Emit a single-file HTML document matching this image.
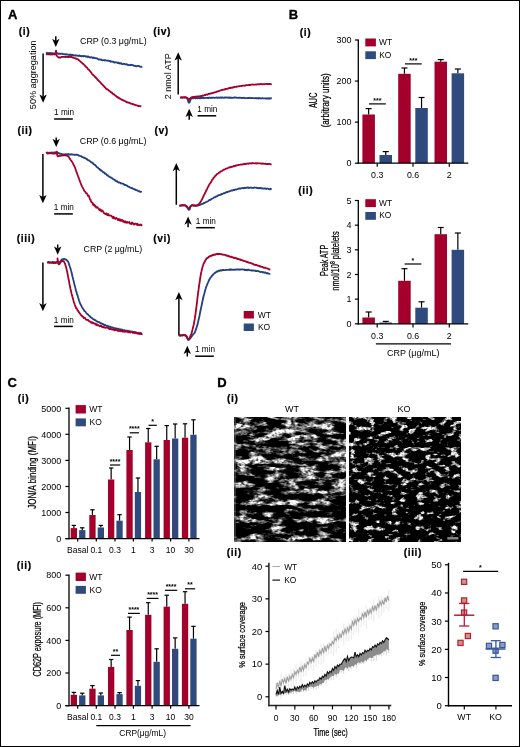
<!DOCTYPE html>
<html><head><meta charset="utf-8"><style>
html,body{margin:0;padding:0;background:#fff;}
svg{display:block;font-family:"Liberation Sans", sans-serif;will-change:transform;}
</style></head><body>
<svg width="520" height="747" viewBox="0 0 520 747">
<rect x="0" y="0" width="520" height="747" fill="#fff"/>
<text x="8.0" y="19.0" font-size="13" text-anchor="start" font-weight="bold" fill="#000" stroke="#000" stroke-width="0.35">A</text>
<text x="18.75" y="34.85" font-size="10.3" text-anchor="start" font-weight="bold" fill="#000" letter-spacing="0.6" stroke="#000" stroke-width="0.2">(i)</text>
<text x="17.55" y="133.65" font-size="10.3" text-anchor="start" font-weight="bold" fill="#000" letter-spacing="0.6" stroke="#000" stroke-width="0.2">(ii)</text>
<text x="16.75" y="242.45" font-size="10.3" text-anchor="start" font-weight="bold" fill="#000" letter-spacing="0.6" stroke="#000" stroke-width="0.2">(iii)</text>
<text x="153.25" y="34.75" font-size="10.3" text-anchor="start" font-weight="bold" fill="#000" letter-spacing="0.6" stroke="#000" stroke-width="0.2">(iv)</text>
<text x="154.45" y="133.65" font-size="10.3" text-anchor="start" font-weight="bold" fill="#000" letter-spacing="0.6" stroke="#000" stroke-width="0.2">(v)</text>
<text x="153.25" y="242.05" font-size="10.3" text-anchor="start" font-weight="bold" fill="#000" letter-spacing="0.6" stroke="#000" stroke-width="0.2">(vi)</text>
<line x1="55.8" y1="36.2" x2="55.8" y2="41.0" stroke="#000" stroke-width="1.5" />
<path d="M52.10,38.80 L55.80,41.00 L59.50,38.80 L55.80,47.10 Z" fill="#000"/>
<text x="80" y="44.4" font-size="8.9" text-anchor="start" font-weight="normal" fill="#000" >CRP (0.3 μg/mL)</text>
<line x1="43.1" y1="53.4" x2="43.1" y2="96.60000000000001" stroke="#000" stroke-width="1.5" />
<path d="M39.40,94.40 L43.10,96.60 L46.80,94.40 L43.10,102.70 Z" fill="#000"/>
<text transform="translate(35.9,74.8) rotate(-90) scale(1.0,1)" font-size="9.1" text-anchor="middle" font-weight="normal">50% aggregation</text>
<polyline points="46.10,53.06 46.39,52.94 46.75,53.36 47.18,52.92 47.68,53.32 48.21,53.22 48.79,53.00 49.39,53.38 50.00,53.03 50.39,53.36 50.80,53.07 51.22,53.09 51.65,53.36 52.10,53.68 52.56,53.12 53.03,53.20 53.51,53.53 54.00,53.79 54.49,53.51 54.99,53.38 55.49,53.86 56.00,53.14 56.44,53.81 56.88,53.38 57.32,53.30 57.77,53.31 58.22,53.49 58.68,53.94 59.14,53.47 59.61,53.83 60.09,53.92 60.58,53.75 61.08,53.94 61.59,53.60 62.11,53.64 62.65,53.81 63.20,54.24 63.63,54.08 64.06,54.04 64.51,54.30 64.96,54.24 65.43,54.16 65.90,54.61 66.38,54.58 66.86,54.27 67.35,54.58 67.84,54.60 68.34,54.93 68.84,54.86 69.34,54.56 69.84,55.17 70.34,54.54 70.84,54.83 71.33,55.15 71.83,54.72 72.31,55.04 72.80,54.73 73.28,55.28 73.77,55.41 74.25,55.30 74.74,55.59 75.22,55.19 75.71,55.54 76.19,55.51 76.68,55.54 77.16,55.49 77.65,55.85 78.14,55.98 78.62,55.65 79.11,55.85 79.59,55.42 80.08,55.98 80.56,55.99 81.05,56.32 81.53,56.24 82.02,55.87 82.50,56.01 82.98,56.30 83.47,55.84 83.96,56.25 84.44,56.08 84.93,56.10 85.42,56.12 85.91,56.75 86.40,56.30 86.89,56.46 87.38,56.64 87.86,57.10 88.34,56.53 88.83,56.90 89.30,57.06 89.78,57.40 90.25,57.42 90.72,57.54 91.19,57.15 91.64,57.35 92.10,57.39 92.60,57.91 93.08,58.07 93.56,57.53 94.02,57.66 94.48,57.82 94.94,57.94 95.39,58.26 95.84,58.46 96.29,58.32 96.74,58.24 97.19,58.69 97.65,58.78 98.12,59.06 98.59,59.49 99.07,59.40 99.57,59.38 100.08,59.58 100.60,59.74 101.04,59.34 101.49,60.11 101.94,60.10 102.40,60.27 102.87,60.30 103.34,60.07 103.82,60.16 104.30,60.02 104.79,60.53 105.28,60.17 105.77,60.26 106.27,60.46 106.77,60.52 107.26,60.75 107.76,60.61 108.26,60.66 108.76,60.87 109.25,60.92 109.74,61.22 110.23,61.04 110.72,61.81 111.20,61.69 111.68,61.41 112.16,61.58 112.64,61.75 113.11,61.86 113.59,61.76 114.07,62.43 114.54,62.64 115.02,62.31 115.50,62.42 115.97,62.19 116.45,62.30 116.93,62.59 117.40,62.62 117.88,63.16 118.36,62.71 118.83,62.69 119.31,63.53 119.79,63.28 120.26,63.06 120.74,63.46 121.22,63.14 121.70,63.62 122.18,64.07 122.66,64.06 123.15,64.01 123.63,63.74 124.12,63.91 124.61,63.83 125.10,64.39 125.59,64.28 126.08,64.55 126.57,64.27 127.06,64.27 127.54,64.81 128.03,65.03 128.51,65.00 129.00,65.04 129.48,65.12 129.96,65.13 130.43,64.79 130.90,65.10 131.37,65.04 131.84,64.85 132.30,64.92 132.81,65.20 133.34,65.27 133.89,65.69 134.44,65.99 135.00,65.66 135.56,66.14 136.12,66.26 136.67,66.31 137.22,65.92 137.76,65.88 138.29,65.96 138.80,66.01 139.29,66.09 139.76,66.49 140.20,66.78 140.61,66.79 140.99,66.55 141.33,66.74 141.64,66.90 141.90,66.37" fill="none" stroke="#21407f" stroke-width="1.8" stroke-linejoin="round"/>
<polyline points="46.10,54.20 46.39,54.36 46.77,54.30 47.22,54.30 47.72,54.16 48.27,54.00 48.84,54.39 49.42,54.14 50.00,54.44 50.56,54.56 51.09,54.23 51.58,54.24 52.00,54.57 52.64,54.45 53.24,54.15 53.78,54.16 54.27,54.18 54.71,54.59 55.08,54.41 55.40,53.79 55.87,52.03 56.00,50.59 56.22,52.37 56.60,54.91 56.90,55.83 57.24,56.24 57.71,56.67 58.40,57.58 58.75,57.46 59.12,57.42 59.53,57.65 59.96,57.31 60.43,57.51 60.93,57.41 61.45,56.97 62.01,56.93 62.59,56.90 63.20,56.84 63.60,57.04 64.03,56.83 64.48,56.91 64.94,56.72 65.42,57.17 65.91,56.82 66.42,56.87 66.93,56.94 67.44,57.13 67.95,56.84 68.46,57.14 68.97,56.91 69.47,56.96 69.96,56.99 70.44,56.74 70.90,57.06 71.42,57.00 71.94,57.00 72.45,57.60 72.97,57.35 73.48,57.68 73.98,57.98 74.48,58.05 74.97,58.08 75.46,58.38 75.93,58.60 76.39,58.93 76.84,58.73 77.28,59.22 77.70,59.25 78.26,59.59 78.79,60.23 79.29,60.43 79.76,60.84 80.22,61.36 80.68,61.85 81.12,61.99 81.57,62.51 82.03,62.87 82.50,63.31 82.98,63.85 83.46,64.14 83.94,64.64 84.42,65.06 84.90,65.80 85.38,66.12 85.86,66.71 86.34,67.24 86.82,67.34 87.30,68.04 87.79,68.81 88.29,69.34 88.79,69.52 89.30,70.14 89.80,70.96 90.30,71.36 90.78,72.06 91.24,72.53 91.68,73.42 92.10,73.97 92.62,74.61 93.07,74.62 93.47,75.35 93.87,75.68 94.28,75.76 94.75,76.66 95.30,77.28 95.70,77.26 96.14,78.17 96.59,78.34 97.07,78.92 97.57,79.77 98.07,80.24 98.58,80.40 99.10,81.13 99.61,81.74 100.11,82.18 100.60,82.62 101.08,83.21 101.56,83.97 102.05,84.07 102.53,84.92 103.01,85.37 103.49,85.63 103.97,86.32 104.45,86.99 104.94,87.40 105.42,87.60 105.90,88.59 106.38,88.89 106.85,89.39 107.32,89.24 107.79,89.69 108.25,89.90 108.72,90.68 109.20,90.71 109.68,90.97 110.18,91.50 110.68,92.16 111.20,92.49 111.65,92.50 112.10,92.79 112.56,93.62 113.03,93.78 113.50,94.24 113.98,94.25 114.46,94.61 114.95,95.37 115.45,95.60 115.95,95.76 116.46,96.65 116.98,96.83 117.50,97.28 117.96,97.15 118.43,97.92 118.91,97.74 119.39,98.52 119.89,98.57 120.38,98.80 120.88,99.22 121.38,99.73 121.89,99.62 122.39,99.81 122.90,100.32 123.40,100.41 123.90,100.59 124.40,100.86 124.90,101.03 125.39,101.34 125.87,101.62 126.35,101.82 126.83,102.29 127.31,102.19 127.78,102.49 128.26,102.47 128.74,102.74 129.22,102.71 129.71,103.01 130.21,103.04 130.72,103.63 131.23,103.69 131.76,103.64 132.30,103.98 132.75,104.40 133.22,104.05 133.73,104.63 134.25,104.56 134.78,104.75 135.33,105.12 135.88,105.01 136.44,105.24 136.99,105.50 137.53,105.83 138.06,105.60 138.58,106.04 139.07,106.10 139.53,106.19 139.97,106.17 140.37,106.24 140.72,106.17 141.04,106.30 141.30,106.34" fill="none" stroke="#a8002a" stroke-width="1.8" stroke-linejoin="round"/>
<text x="54.1" y="115.0" font-size="8.2" text-anchor="start" font-weight="normal" fill="#000" >1 min</text>
<line x1="54.1" y1="119.0" x2="72.8" y2="119.0" stroke="#000" stroke-width="1.5" />
<line x1="56.2" y1="137.5" x2="56.2" y2="140.89999999999998" stroke="#000" stroke-width="1.5" />
<path d="M52.50,138.70 L56.20,140.90 L59.90,138.70 L56.20,147.00 Z" fill="#000"/>
<text x="79.8" y="144.0" font-size="8.9" text-anchor="start" font-weight="normal" fill="#000" >CRP (0.6 μg/mL)</text>
<line x1="42.9" y1="154" x2="42.9" y2="197.09999999999997" stroke="#000" stroke-width="1.5" />
<path d="M39.20,194.90 L42.90,197.10 L46.60,194.90 L42.90,203.20 Z" fill="#000"/>
<polyline points="46.30,152.97 46.58,152.62 46.93,152.55 47.35,152.49 47.81,153.02 48.32,153.03 48.86,152.88 49.41,152.60 49.96,152.56 50.51,152.59 51.04,152.70 51.54,152.47 52.00,152.66 52.51,152.51 53.01,152.96 53.49,152.92 53.96,152.57 54.42,152.31 54.88,152.77 55.33,152.29 55.78,152.32 56.24,152.09 56.70,152.42 57.13,152.58 57.52,152.74 57.87,152.71 58.22,153.12 58.58,152.98 58.97,153.37 59.42,153.45 59.94,153.86 60.56,153.76 61.30,153.87 61.65,154.10 62.03,154.08 62.45,154.35 62.88,154.33 63.34,154.50 63.82,154.45 64.32,154.50 64.83,154.61 65.36,154.27 65.89,154.23 66.43,154.69 66.97,154.10 67.52,154.50 68.06,154.44 68.60,154.01 69.13,154.56 69.66,154.60 70.16,154.42 70.66,154.50 71.13,154.56 71.59,154.09 72.02,154.38 72.42,154.38 72.80,154.63 73.48,154.66 74.10,154.73 74.65,154.62 75.16,154.89 75.62,154.81 76.06,154.89 76.47,154.65 76.88,154.60 77.28,154.77 77.70,155.04 78.13,154.99 78.60,155.64 79.08,155.59 79.57,155.81 80.05,155.99 80.53,156.22 81.02,156.28 81.50,156.15 81.98,156.93 82.47,157.12 82.95,157.18 83.43,157.44 83.92,157.77 84.40,157.60 84.88,158.31 85.37,158.23 85.85,158.36 86.34,158.75 86.82,159.35 87.31,159.26 87.79,159.91 88.27,160.37 88.76,160.33 89.24,160.57 89.72,160.95 90.20,161.43 90.69,161.84 91.18,162.11 91.68,162.52 92.19,162.53 92.69,163.00 93.19,163.49 93.68,164.25 94.16,164.36 94.63,164.95 95.07,164.95 95.50,165.35 95.90,165.84 96.45,166.60 96.95,167.06 97.42,167.46 97.85,167.59 98.26,168.13 98.67,168.46 99.08,168.82 99.50,168.93 99.96,169.85 100.39,169.70 100.79,170.55 101.21,170.83 101.67,170.52 102.19,171.22 102.80,171.92 103.17,172.31 103.55,172.24 103.96,172.43 104.38,172.71 104.82,173.57 105.27,173.41 105.74,174.03 106.22,174.08 106.72,174.72 107.22,175.40 107.74,175.20 108.27,176.05 108.80,176.21 109.22,176.76 109.65,176.92 110.09,176.90 110.54,177.67 111.00,177.70 111.47,177.69 111.95,177.99 112.43,178.65 112.91,178.94 113.40,179.15 113.89,179.34 114.38,179.79 114.87,180.07 115.36,180.73 115.84,180.42 116.32,181.22 116.80,181.54 117.27,181.28 117.74,182.08 118.21,182.15 118.67,182.50 119.14,182.27 119.60,182.53 120.07,182.74 120.53,183.35 121.00,183.25 121.47,183.28 121.95,183.51 122.43,183.60 122.91,183.63 123.40,183.87 123.89,184.59 124.39,184.42 124.90,185.10 125.36,184.84 125.84,185.07 126.32,185.47 126.81,185.47 127.31,185.84 127.81,186.49 128.32,186.68 128.82,186.87 129.33,186.99 129.84,187.44 130.35,187.70 130.85,187.67 131.36,188.03 131.85,187.80 132.34,188.51 132.82,188.53 133.29,188.96 133.75,189.10 134.20,189.05 134.73,189.12 135.27,189.97 135.82,189.65 136.38,190.12 136.93,190.26 137.47,190.45 138.01,190.98 138.53,191.36 139.03,191.06 139.52,191.53 139.97,191.46 140.39,191.81 140.78,191.86 141.13,191.84 141.44,191.96 141.70,192.10" fill="none" stroke="#21407f" stroke-width="1.8" stroke-linejoin="round"/>
<polyline points="46.30,153.46 46.58,153.31 46.94,153.21 47.36,153.51 47.83,153.57 48.35,153.37 48.89,153.27 49.44,153.31 50.00,153.29 50.55,153.41 51.07,153.32 51.56,153.39 52.00,153.40 52.55,153.53 53.11,153.67 53.65,153.62 54.17,153.49 54.67,153.49 55.13,153.51 55.54,153.41 55.90,153.33 56.20,153.12 56.67,152.04 56.70,151.69 56.96,153.25 57.30,155.60 57.61,156.16 57.98,156.36 58.50,156.09 58.80,156.07 59.11,155.97 59.45,155.90 59.86,155.78 60.37,155.86 61.00,155.74 61.35,155.72 61.76,155.34 62.20,155.29 62.67,155.51 63.17,155.53 63.68,155.32 64.20,155.33 64.72,155.08 65.22,155.24 65.71,155.49 66.18,155.50 66.61,155.61 67.00,155.79 67.56,155.80 68.05,156.12 68.50,156.59 68.91,157.25 69.30,157.87 69.68,158.56 70.08,159.08 70.50,159.66 70.94,160.32 71.38,160.83 71.81,161.51 72.25,161.99 72.69,163.01 73.12,163.56 73.56,164.67 74.00,165.46 74.44,166.31 74.88,167.31 75.32,168.50 75.76,169.84 76.19,171.08 76.63,172.07 77.07,173.25 77.50,174.61 77.99,175.97 78.48,177.25 78.96,178.55 79.44,180.05 79.92,181.14 80.41,182.52 80.90,183.78 81.33,184.98 81.77,185.82 82.20,186.85 82.64,187.59 83.08,188.36 83.52,189.18 83.96,190.25 84.40,190.88 84.84,191.37 85.27,191.80 85.70,192.47 86.13,193.22 86.57,193.25 87.03,193.48 87.50,194.77 88.00,195.92 88.41,195.41 88.82,195.84 89.23,197.17 89.66,198.18 90.09,199.51 90.55,199.58 91.02,201.49 91.52,202.25 92.04,202.66 92.60,202.90 93.02,204.70 93.44,204.05 93.88,205.38 94.33,204.82 94.80,205.24 95.27,206.58 95.76,206.20 96.25,207.73 96.76,207.35 97.29,207.23 97.82,207.70 98.37,208.43 98.93,209.26 99.50,210.16 99.93,209.11 100.38,209.85 100.84,209.86 101.30,211.47 101.78,210.38 102.26,210.54 102.75,210.88 103.25,211.76 103.75,212.94 104.26,213.23 104.77,213.28 105.28,214.04 105.79,214.23 106.30,213.51 106.81,213.56 107.31,215.12 107.81,215.08 108.31,214.14 108.80,215.48 109.28,215.25 109.77,215.49 110.25,215.66 110.72,215.63 111.20,215.58 111.67,216.27 112.15,216.62 112.62,217.86 113.09,216.66 113.57,218.30 114.05,217.22 114.53,217.68 115.01,218.67 115.50,218.87 115.99,218.40 116.48,217.95 116.98,218.87 117.49,218.89 118.00,220.01 118.47,218.95 118.93,219.42 119.40,220.50 119.86,219.19 120.33,220.01 120.80,220.86 121.27,220.95 121.74,219.88 122.22,220.03 122.70,220.23 123.19,221.85 123.68,220.88 124.17,221.86 124.67,222.27 125.18,221.47 125.70,221.51 126.22,222.82 126.75,222.38 127.29,221.92 127.84,222.83 128.40,222.29 128.85,222.32 129.33,221.97 129.82,223.35 130.34,223.73 130.87,223.36 131.42,223.99 131.97,222.54 132.54,223.00 133.11,223.51 133.69,224.44 134.27,224.53 134.84,223.67 135.42,223.53 135.98,223.93 136.54,224.14 137.09,224.97 137.63,223.79 138.14,224.93 138.65,224.90 139.13,225.12 139.58,225.11 140.01,224.90 140.42,224.49 140.79,224.54 141.13,224.67 141.43,225.43 141.70,224.28" fill="none" stroke="#a8002a" stroke-width="1.8" stroke-linejoin="round"/>
<text x="53.8" y="209.9" font-size="8.2" text-anchor="start" font-weight="normal" fill="#000" >1 min</text>
<line x1="54.1" y1="213.9" x2="72.8" y2="213.9" stroke="#000" stroke-width="1.5" />
<line x1="57.7" y1="244.5" x2="57.7" y2="248.59999999999997" stroke="#000" stroke-width="1.5" />
<path d="M54.00,246.40 L57.70,248.60 L61.40,246.40 L57.70,254.70 Z" fill="#000"/>
<text x="83.6" y="251.7" font-size="8.8" text-anchor="start" font-weight="normal" fill="#000" >CRP (2 μg/mL)</text>
<line x1="42.9" y1="262.6" x2="42.9" y2="305.2" stroke="#000" stroke-width="1.5" />
<path d="M39.20,303.00 L42.90,305.20 L46.60,303.00 L42.90,311.30 Z" fill="#000"/>
<polyline points="47.40,262.02 47.67,262.35 48.01,262.05 48.40,261.94 48.83,261.92 49.31,262.23 49.82,262.09 50.36,262.48 50.92,262.42 51.49,262.49 52.06,262.05 52.64,261.94 53.20,261.95 53.75,262.19 54.27,262.32 54.77,262.16 55.23,262.04 55.64,262.15 56.00,262.27 56.77,262.34 57.38,262.45 57.87,262.58 58.29,262.53 58.65,262.23 59.01,262.63 59.40,262.18 59.94,261.98 60.41,261.32 60.85,260.94 61.30,260.05 61.80,259.65 62.25,259.40 62.73,259.13 63.22,259.41 63.71,259.12 64.21,258.94 64.70,259.04 65.19,259.53 65.70,259.45 66.21,259.57 66.71,260.27 67.17,260.60 67.60,261.29 68.13,261.59 68.58,262.77 69.01,264.14 69.50,265.60 69.96,267.11 70.45,268.31 70.95,270.30 71.44,272.04 71.90,273.81 72.41,276.27 72.88,277.96 73.34,280.05 73.80,281.62 74.27,283.87 74.74,285.58 75.22,287.39 75.70,289.57 76.09,291.08 76.47,291.93 76.87,293.55 77.27,294.90 77.70,296.03 78.12,297.53 78.54,298.83 78.98,300.31 79.49,301.79 80.10,303.46 80.48,304.31 80.87,304.86 81.29,305.57 81.72,306.59 82.19,307.63 82.68,308.17 83.21,309.07 83.78,309.82 84.40,310.98 84.80,311.31 85.21,311.51 85.65,312.03 86.11,312.70 86.59,313.29 87.07,313.84 87.57,314.00 88.07,314.53 88.58,315.32 89.09,315.62 89.60,316.00 90.11,316.46 90.62,317.27 91.11,317.30 91.60,317.84 92.07,318.08 92.54,318.47 92.99,319.07 93.44,319.46 93.89,319.38 94.34,319.57 94.79,320.17 95.25,320.13 95.71,320.28 96.19,321.08 96.67,321.06 97.17,321.56 97.69,321.58 98.24,322.14 98.80,322.18 99.22,322.21 99.64,322.33 100.08,322.86 100.52,323.13 100.97,323.50 101.43,323.23 101.90,323.76 102.37,323.83 102.85,324.12 103.33,324.12 103.82,324.41 104.31,324.77 104.81,325.22 105.31,324.93 105.82,325.36 106.33,325.75 106.84,326.04 107.35,325.77 107.87,325.92 108.38,326.59 108.90,326.79 109.35,326.64 109.81,326.53 110.28,327.20 110.75,327.02 111.22,327.46 111.70,327.43 112.18,327.69 112.66,327.42 113.14,327.92 113.63,327.71 114.12,327.94 114.61,328.33 115.10,328.44 115.60,328.18 116.09,328.31 116.59,328.54 117.08,328.73 117.57,328.76 118.06,328.72 118.56,328.90 119.04,329.30 119.53,329.52 120.02,329.11 120.50,329.54 120.98,329.76 121.47,329.44 121.95,330.03 122.44,329.70 122.93,330.09 123.41,330.16 123.90,330.30 124.39,330.21 124.88,330.37 125.37,330.57 125.86,330.57 126.34,330.80 126.83,330.77 127.31,330.85 127.79,330.70 128.27,331.15 128.75,331.16 129.23,331.10 129.70,331.50 130.17,331.60 130.63,331.50 131.09,331.43 131.55,331.69 132.00,331.56 132.52,331.68 133.06,331.97 133.60,331.88 134.16,332.21 134.72,332.37 135.28,332.20 135.84,332.67 136.40,332.46 136.96,332.96 137.50,333.10 138.03,333.06 138.55,332.89 139.05,333.26 139.53,333.29 139.99,333.73 140.42,333.33 140.83,333.85 141.20,334.01 141.54,333.92 141.84,334.03 142.10,333.72" fill="none" stroke="#21407f" stroke-width="1.8" stroke-linejoin="round"/>
<polyline points="47.40,262.69 47.68,262.51 48.04,262.72 48.45,262.73 48.91,262.47 49.42,262.77 49.97,262.87 50.55,262.57 51.14,262.74 51.75,262.94 52.36,262.75 52.97,263.07 53.57,262.85 54.15,263.08 54.71,262.81 55.23,262.94 55.70,263.08 56.13,262.75 56.50,262.70 56.80,262.70 57.69,260.25 57.50,258.31 57.83,260.40 58.20,263.06 58.49,264.10 58.81,264.31 59.20,264.36 59.55,263.72 59.94,263.35 60.36,262.40 60.80,262.01 61.18,261.70 61.58,261.23 61.99,261.14 62.40,260.83 62.80,260.83 63.28,261.17 63.76,261.28 64.23,262.29 64.70,263.05 65.17,264.15 65.65,265.76 66.12,267.22 66.60,269.40 67.07,271.39 67.55,273.73 68.02,276.42 68.50,278.78 68.97,281.12 69.44,283.82 69.91,285.98 70.40,288.63 70.81,290.21 71.24,292.14 71.67,294.00 72.10,295.49 72.50,297.07 72.95,298.67 73.35,300.13 73.78,301.66 74.30,303.26 74.70,304.52 75.13,305.53 75.59,306.64 76.09,308.19 76.62,308.33 77.20,309.47 77.61,310.66 78.03,310.58 78.47,311.23 78.93,312.32 79.41,312.68 79.90,313.62 80.42,314.09 80.95,315.12 81.50,315.71 81.92,315.66 82.35,316.56 82.78,316.77 83.21,316.73 83.66,318.06 84.13,317.58 84.60,317.82 85.10,318.10 85.61,319.10 86.15,319.73 86.71,319.98 87.30,319.88 87.71,319.96 88.13,319.91 88.57,320.92 89.01,321.07 89.47,321.07 89.93,321.68 90.41,321.69 90.89,322.54 91.38,322.54 91.88,322.21 92.38,323.25 92.89,322.46 93.40,323.29 93.92,323.38 94.44,323.41 94.96,323.43 95.48,324.51 96.00,323.81 96.45,324.65 96.90,325.30 97.36,324.52 97.82,324.76 98.28,325.43 98.74,325.48 99.21,325.81 99.68,326.18 100.16,325.58 100.63,325.91 101.12,326.06 101.60,325.92 102.09,327.08 102.58,327.11 103.07,327.18 103.57,326.48 104.07,327.64 104.57,327.66 105.08,327.47 105.59,327.95 106.10,327.74 106.55,327.59 107.00,327.57 107.46,327.84 107.92,327.72 108.38,328.19 108.84,328.80 109.31,328.85 109.77,329.14 110.24,329.08 110.72,328.66 111.19,329.11 111.67,329.07 112.15,329.59 112.63,329.37 113.12,329.16 113.60,329.71 114.09,330.20 114.59,329.40 115.08,330.29 115.58,329.35 116.08,329.73 116.58,329.80 117.09,330.50 117.60,330.83 118.06,330.68 118.52,330.25 118.99,331.00 119.46,330.41 119.94,330.38 120.42,331.26 120.90,331.00 121.39,331.15 121.88,331.19 122.37,331.64 122.86,331.10 123.36,331.61 123.85,331.51 124.35,331.77 124.84,331.33 125.34,331.75 125.83,331.63 126.32,331.38 126.81,331.33 127.30,331.89 127.78,331.30 128.26,332.37 128.74,331.51 129.21,331.44 129.68,331.60 130.14,332.65 130.60,332.01 131.12,331.84 131.65,331.78 132.19,331.88 132.74,332.73 133.29,332.74 133.85,332.90 134.41,333.02 134.97,332.29 135.53,333.00 136.08,332.81 136.63,333.43 137.16,333.50 137.69,333.66 138.20,332.74 138.70,333.77 139.17,333.89 139.63,333.99 140.07,333.05 140.48,333.22 140.87,333.16 141.22,333.12 141.55,334.14 141.84,334.14 142.10,333.96" fill="none" stroke="#a8002a" stroke-width="1.8" stroke-linejoin="round"/>
<text x="53.8" y="322.5" font-size="8.2" text-anchor="start" font-weight="normal" fill="#000" >1 min</text>
<line x1="54.1" y1="326.4" x2="72.8" y2="326.4" stroke="#000" stroke-width="1.5" />
<line x1="178.2" y1="94.4" x2="178.2" y2="58.39999999999999" stroke="#000" stroke-width="1.5" />
<path d="M174.50,60.60 L178.20,58.40 L181.90,60.60 L178.20,52.30 Z" fill="#000"/>
<text transform="translate(170.9,76.3) rotate(-90) scale(1.0,1)" font-size="9.0" text-anchor="middle" font-weight="normal">2 nmol ATP</text>
<polyline points="180.20,97.90 180.49,97.77 180.87,97.54 181.32,97.39 181.83,97.35 182.37,97.70 182.95,97.33 183.54,97.37 184.13,97.42 184.71,97.19 185.26,97.38 185.77,97.47 186.22,97.86 186.60,97.82 187.24,98.46 187.73,99.84 188.10,100.69 188.42,101.96 188.73,102.63 189.10,102.62 189.50,102.51 189.82,101.59 190.18,100.59 190.70,99.18 191.50,98.62 191.81,98.39 192.14,98.09 192.48,98.39 192.83,97.87 193.20,98.27 193.59,97.86 194.00,97.75 194.43,97.87 194.89,98.22 195.38,98.36 195.89,97.79 196.44,98.10 197.03,98.11 197.64,98.30 198.30,97.93 199.00,98.10 199.37,98.00 199.74,98.27 200.13,97.92 200.53,98.31 200.94,97.90 201.36,97.85 201.79,98.12 202.23,97.99 202.67,97.74 203.13,98.04 203.59,97.70 204.06,98.11 204.54,98.04 205.03,98.08 205.52,97.97 206.02,97.79 206.52,97.80 207.03,97.78 207.55,98.07 208.06,97.57 208.59,98.04 209.11,97.51 209.64,97.61 210.18,97.63 210.71,98.00 211.25,97.75 211.79,97.67 212.33,97.96 212.87,97.56 213.41,97.69 213.96,97.73 214.50,97.85 214.95,97.85 215.40,97.78 215.86,97.59 216.32,97.58 216.78,97.47 217.25,97.88 217.72,97.77 218.20,97.81 218.68,97.47 219.16,97.63 219.65,97.82 220.13,97.70 220.63,97.43 221.12,97.63 221.62,97.88 222.11,97.49 222.61,97.47 223.11,97.53 223.62,97.77 224.12,97.86 224.63,97.44 225.13,97.44 225.64,97.50 226.15,97.55 226.65,97.67 227.16,97.45 227.67,97.55 228.18,97.47 228.69,97.95 229.19,97.80 229.70,97.43 230.20,97.95 230.71,97.43 231.21,97.61 231.71,97.97 232.21,97.86 232.71,97.83 233.21,97.66 233.70,97.52 234.19,97.79 234.69,97.48 235.18,97.54 235.67,97.66 236.17,97.45 236.66,97.68 237.15,97.92 237.65,97.87 238.14,97.77 238.64,97.85 239.13,97.76 239.62,97.58 240.12,97.87 240.61,97.76 241.11,97.97 241.60,98.08 242.10,97.80 242.59,97.90 243.08,98.02 243.58,97.83 244.07,97.73 244.57,98.04 245.06,98.14 245.55,98.09 246.04,98.06 246.54,98.16 247.03,98.07 247.52,98.06 248.01,97.96 248.50,97.89 248.99,98.09 249.48,97.78 249.97,97.99 250.46,98.22 250.95,98.18 251.44,98.15 251.93,97.93 252.41,98.04 252.90,98.07 253.40,98.18 253.92,98.07 254.45,98.24 254.98,98.40 255.53,97.97 256.08,98.26 256.63,98.35 257.20,98.12 257.76,98.20 258.33,98.50 258.91,97.95 259.48,98.27 260.05,98.05 260.63,98.43 261.20,98.54 261.77,98.30 262.33,98.06 262.89,98.36 263.45,98.35 264.00,98.47 264.54,98.36 265.07,98.44 265.59,98.57 266.11,98.40 266.61,98.34 267.09,98.67 267.57,98.24 268.03,98.53 268.47,98.37 268.90,98.60 269.31,98.22 269.70,98.75 270.07,98.38 270.42,98.21 270.75,98.35 271.06,98.43 271.34,98.20 271.60,98.45" fill="none" stroke="#21407f" stroke-width="1.8" stroke-linejoin="round"/>
<polyline points="180.20,97.46 180.49,97.60 180.87,97.42 181.32,97.36 181.83,97.33 182.37,97.57 182.95,97.66 183.54,97.44 184.13,97.29 184.71,97.58 185.26,97.40 185.77,97.34 186.22,97.35 186.60,97.74 187.24,98.01 187.73,98.32 188.11,98.67 188.43,99.13 188.74,99.26 189.10,99.73 189.49,99.24 189.78,98.96 190.11,98.51 190.60,97.97 191.40,97.38 191.73,97.21 192.08,97.26 192.47,96.98 192.88,97.27 193.31,96.98 193.77,97.18 194.25,96.84 194.74,96.85 195.24,96.75 195.76,96.78 196.29,96.61 196.83,96.47 197.37,96.76 197.91,96.47 198.46,96.37 199.00,96.30 199.44,96.30 199.89,96.19 200.34,96.20 200.81,96.11 201.28,95.86 201.76,96.04 202.24,95.89 202.73,95.38 203.23,95.65 203.72,95.57 204.22,95.39 204.73,94.95 205.23,95.17 205.73,94.94 206.23,94.51 206.73,94.37 207.23,94.72 207.72,94.44 208.21,94.11 208.70,93.90 209.18,93.79 209.66,93.70 210.15,93.83 210.63,93.48 211.11,93.24 211.59,93.47 212.07,93.27 212.55,92.81 213.03,93.02 213.51,92.73 213.99,92.67 214.46,92.46 214.94,92.42 215.42,92.22 215.90,92.09 216.38,91.63 216.86,91.73 217.34,91.50 217.82,91.46 218.30,91.17 218.78,91.25 219.26,90.95 219.74,90.66 220.22,90.50 220.70,90.31 221.18,90.35 221.66,89.99 222.14,90.06 222.62,89.75 223.10,89.79 223.58,89.66 224.06,89.54 224.54,89.57 225.02,89.01 225.50,89.29 225.98,88.98 226.46,88.90 226.94,88.82 227.42,88.79 227.90,88.44 228.38,88.34 228.85,88.50 229.32,87.94 229.79,88.12 230.25,88.01 230.72,87.60 231.18,87.78 231.64,87.72 232.11,87.74 232.57,87.34 233.04,87.57 233.52,87.24 233.99,87.13 234.47,87.24 234.96,86.72 235.45,86.97 235.95,86.83 236.46,86.60 236.97,86.77 237.50,86.43 237.95,86.41 238.40,86.37 238.85,86.42 239.32,86.07 239.79,86.11 240.26,86.03 240.74,86.03 241.22,86.10 241.71,85.77 242.20,85.97 242.69,85.69 243.18,85.68 243.68,85.50 244.17,85.55 244.67,85.73 245.17,85.51 245.66,85.52 246.16,85.23 246.66,85.17 247.15,85.10 247.64,85.19 248.13,85.17 248.62,85.19 249.10,84.77 249.58,85.06 250.06,85.10 250.55,84.89 251.03,84.59 251.51,84.68 251.99,84.49 252.48,84.54 252.96,84.87 253.44,84.68 253.92,84.67 254.41,84.70 254.89,84.72 255.37,84.54 255.85,84.51 256.33,84.49 256.81,84.49 257.29,84.42 257.76,84.43 258.24,84.17 258.71,84.37 259.19,84.25 259.66,84.37 260.13,84.02 260.60,84.04 261.10,83.95 261.61,84.30 262.14,84.35 262.68,84.20 263.23,84.05 263.78,84.26 264.34,84.23 264.90,84.11 265.45,83.95 266.00,83.96 266.55,84.01 267.09,83.96 267.61,84.01 268.12,84.11 268.61,84.25 269.08,83.80 269.53,84.06 269.95,83.79 270.35,83.82 270.71,84.17 271.04,84.05 271.34,84.21 271.60,83.97" fill="none" stroke="#a8002a" stroke-width="1.8" stroke-linejoin="round"/>
<line x1="189.2" y1="119.8" x2="189.2" y2="114.89999999999999" stroke="#000" stroke-width="1.5" />
<path d="M185.50,117.10 L189.20,114.90 L192.90,117.10 L189.20,108.80 Z" fill="#000"/>
<text x="197.3" y="111.5" font-size="8.2" text-anchor="start" font-weight="normal" fill="#000" >1 min</text>
<line x1="197.5" y1="115.8" x2="216.2" y2="115.8" stroke="#000" stroke-width="1.5" />
<line x1="176.3" y1="204.8" x2="176.3" y2="169.00000000000003" stroke="#000" stroke-width="1.5" />
<path d="M172.60,171.20 L176.30,169.00 L180.00,171.20 L176.30,162.90 Z" fill="#000"/>
<polyline points="179.50,205.31 179.78,205.53 180.13,205.64 180.54,205.82 181.01,205.81 181.52,205.47 182.06,205.41 182.61,205.20 183.17,205.52 183.71,205.28 184.24,205.28 184.74,205.27 185.20,205.36 185.60,205.91 186.17,205.95 186.69,207.00 187.16,207.13 187.59,208.30 187.99,208.51 188.37,209.00 188.74,209.80 189.10,209.65 189.58,209.56 189.94,208.32 190.29,207.10 190.74,206.47 191.40,205.73 191.76,205.68 192.14,205.53 192.56,205.12 193.01,205.47 193.48,205.57 193.97,205.50 194.48,205.85 195.00,205.51 195.54,205.98 196.09,205.85 196.64,205.40 197.20,205.31 197.62,205.59 198.05,205.58 198.48,205.02 198.92,205.02 199.37,205.13 199.83,204.63 200.29,204.88 200.76,204.48 201.23,204.03 201.72,204.02 202.21,203.93 202.71,203.63 203.22,203.55 203.74,202.99 204.26,203.13 204.80,202.62 205.24,202.57 205.69,202.33 206.14,201.96 206.61,201.69 207.08,201.67 207.56,201.49 208.04,201.12 208.53,200.70 209.03,200.25 209.53,199.82 210.02,200.07 210.53,199.62 211.03,199.40 211.53,198.81 212.03,198.69 212.53,198.63 213.03,198.27 213.52,197.86 214.01,197.43 214.50,197.26 214.98,197.29 215.46,196.75 215.95,196.71 216.43,196.43 216.91,196.38 217.39,196.10 217.87,195.57 218.35,195.18 218.83,195.12 219.31,195.01 219.79,194.90 220.26,194.83 220.74,194.67 221.22,193.97 221.70,194.24 222.18,194.04 222.66,193.88 223.14,193.51 223.62,193.15 224.10,193.31 224.58,193.10 225.06,192.85 225.54,192.81 226.02,192.30 226.50,191.97 226.98,192.08 227.46,192.06 227.94,191.54 228.42,191.71 228.90,191.67 229.38,191.09 229.86,191.16 230.34,191.06 230.82,190.79 231.30,190.49 231.78,190.38 232.26,190.54 232.74,190.43 233.22,190.10 233.70,189.75 234.18,190.06 234.66,189.92 235.14,189.48 235.62,189.57 236.10,189.64 236.58,189.53 237.06,189.20 237.54,189.07 238.02,189.03 238.50,188.69 238.98,188.60 239.46,188.50 239.94,188.73 240.42,188.44 240.90,188.48 241.38,188.31 241.86,188.30 242.34,188.01 242.82,187.89 243.30,188.40 243.78,187.97 244.26,187.76 244.74,188.03 245.23,188.08 245.71,187.66 246.20,187.90 246.68,187.72 247.16,187.80 247.65,187.47 248.13,187.46 248.61,188.02 249.10,187.94 249.58,187.70 250.06,187.74 250.54,187.55 251.01,187.86 251.49,187.65 251.96,187.96 252.43,187.86 252.90,187.89 253.39,187.99 253.88,187.57 254.36,187.46 254.84,187.58 255.32,187.59 255.79,187.56 256.27,187.57 256.74,187.90 257.21,188.12 257.69,187.91 258.16,188.24 258.63,188.26 259.11,187.79 259.58,188.15 260.06,188.07 260.54,187.95 261.02,188.49 261.51,188.11 262.00,188.34 262.48,188.42 262.98,188.66 263.50,188.53 264.04,188.41 264.59,188.49 265.15,188.37 265.71,188.91 266.26,188.98 266.82,188.57 267.37,188.51 267.91,188.69 268.43,188.80 268.93,189.18 269.41,189.23 269.86,189.23 270.29,188.80 270.68,189.28 271.03,189.27 271.34,189.26 271.60,189.49" fill="none" stroke="#21407f" stroke-width="1.8" stroke-linejoin="round"/>
<polyline points="179.50,205.18 179.78,205.22 180.13,205.52 180.56,205.59 181.03,205.44 181.55,205.23 182.09,205.36 182.65,205.44 183.21,205.11 183.76,205.24 184.29,205.24 184.78,205.23 185.22,205.48 185.60,205.43 186.27,205.88 186.80,206.44 187.25,207.40 187.65,207.71 188.05,208.54 188.50,208.45 188.95,208.16 189.36,208.09 189.77,207.05 190.22,206.68 190.75,206.01 191.40,205.59 191.79,205.12 192.22,205.22 192.69,205.05 193.19,205.50 193.71,205.51 194.24,205.47 194.78,205.44 195.31,205.43 195.82,205.70 196.32,205.50 196.78,205.50 197.20,205.12 197.77,204.86 198.29,204.42 198.77,204.32 199.22,203.75 199.66,203.00 200.10,202.76 200.54,201.80 201.00,201.16 201.47,200.24 201.95,199.41 202.42,198.75 202.89,197.49 203.37,196.38 203.84,195.50 204.32,194.40 204.80,193.70 205.28,192.34 205.75,191.81 206.22,190.39 206.69,189.85 207.17,188.77 207.66,187.58 208.17,186.75 208.70,185.69 209.14,184.90 209.60,184.06 210.07,183.33 210.56,182.83 211.04,182.02 211.54,181.18 212.03,180.00 212.53,179.35 213.02,178.95 213.50,177.88 213.97,177.61 214.41,176.85 214.85,176.68 215.28,175.71 215.72,175.65 216.17,174.98 216.65,174.45 217.15,173.95 217.70,173.92 218.30,173.31 218.70,172.85 219.12,172.68 219.56,172.62 220.02,171.97 220.49,171.84 220.98,171.33 221.47,171.05 221.97,171.05 222.48,170.73 222.99,170.18 223.50,169.85 224.01,169.58 224.51,169.58 225.02,169.27 225.51,168.92 226.00,168.65 226.48,168.64 226.95,168.48 227.42,168.34 227.88,168.04 228.34,167.68 228.80,167.44 229.27,167.62 229.73,167.30 230.20,167.30 230.67,166.83 231.15,167.06 231.64,166.68 232.14,166.79 232.65,166.67 233.17,166.34 233.70,165.96 234.14,166.29 234.58,165.96 235.04,166.04 235.50,165.63 235.97,165.48 236.44,165.69 236.92,165.35 237.40,165.14 237.89,165.13 238.38,165.14 238.87,164.74 239.37,164.90 239.86,164.77 240.36,164.71 240.86,164.42 241.35,164.63 241.84,164.59 242.33,164.54 242.82,164.18 243.30,164.31 243.78,164.07 244.26,164.19 244.74,163.77 245.23,164.12 245.71,164.10 246.20,163.81 246.68,163.76 247.16,163.72 247.65,163.67 248.13,163.37 248.61,163.80 249.10,163.38 249.58,163.32 250.06,163.25 250.54,163.29 251.01,163.54 251.49,163.12 251.96,163.13 252.43,163.42 252.90,163.15 253.39,163.05 253.88,163.33 254.36,163.32 254.84,163.29 255.32,163.39 255.79,163.10 256.27,163.49 256.74,163.43 257.21,163.12 257.69,163.18 258.16,163.39 258.63,163.42 259.11,163.33 259.58,163.28 260.06,163.45 260.54,163.34 261.02,163.60 261.51,163.76 262.00,163.42 262.48,163.66 262.98,163.77 263.50,163.51 264.04,163.87 264.59,163.96 265.15,163.72 265.71,163.77 266.26,164.02 266.82,163.90 267.37,163.87 267.91,164.17 268.43,164.13 268.93,163.94 269.41,163.92 269.86,164.00 270.29,164.08 270.68,164.38 271.03,164.32 271.34,164.39 271.60,164.36" fill="none" stroke="#a8002a" stroke-width="1.8" stroke-linejoin="round"/>
<line x1="188.1" y1="227.3" x2="188.1" y2="222.60000000000002" stroke="#000" stroke-width="1.5" />
<path d="M184.40,224.80 L188.10,222.60 L191.80,224.80 L188.10,216.50 Z" fill="#000"/>
<text x="195.8" y="223.8" font-size="8.2" text-anchor="start" font-weight="normal" fill="#000" >1 min</text>
<line x1="196.2" y1="227.7" x2="214.8" y2="227.7" stroke="#000" stroke-width="1.5" />
<line x1="178.9" y1="335.2" x2="178.9" y2="298.1" stroke="#000" stroke-width="1.5" />
<path d="M175.20,300.30 L178.90,298.10 L182.60,300.30 L178.90,292.00 Z" fill="#000"/>
<polyline points="178.90,335.84 179.18,335.28 179.54,335.58 179.96,335.84 180.44,335.78 180.95,335.25 181.50,335.33 182.07,335.43 182.64,335.21 183.21,335.31 183.77,334.99 184.29,335.28 184.78,335.38 185.22,335.14 185.60,335.35 186.29,336.49 186.81,337.20 187.23,338.28 187.61,338.97 188.01,339.77 188.50,340.07 188.94,339.93 189.41,338.97 189.90,338.86 190.40,337.94 190.90,337.52 191.39,336.51 191.86,336.01 192.30,335.70 192.84,334.87 193.33,334.10 193.81,333.79 194.27,333.16 194.73,332.79 195.20,331.35 195.68,330.14 196.17,328.97 196.65,327.03 197.13,325.66 197.62,324.11 198.10,321.91 198.58,319.73 199.07,317.70 199.55,315.47 200.03,312.87 200.52,310.52 201.00,308.24 201.48,306.07 201.97,303.80 202.45,301.36 202.93,299.04 203.42,296.74 203.90,295.03 204.37,293.39 204.83,291.52 205.29,289.89 205.77,288.42 206.26,286.64 206.80,285.55 207.22,284.31 207.64,283.33 208.07,282.37 208.52,281.29 208.99,280.23 209.49,279.27 210.02,278.36 210.60,277.71 211.01,277.06 211.43,276.64 211.86,275.68 212.31,275.38 212.78,275.20 213.26,274.25 213.75,273.98 214.25,273.47 214.77,272.88 215.30,272.96 215.84,272.10 216.40,272.09 216.83,271.43 217.26,271.16 217.70,271.54 218.15,271.07 218.60,270.66 219.06,270.76 219.53,270.68 220.01,270.78 220.50,270.24 220.99,270.24 221.49,270.67 222.00,270.45 222.51,269.97 223.03,270.02 223.56,269.97 224.10,270.12 224.54,270.03 224.98,270.14 225.44,270.08 225.90,269.83 226.37,269.95 226.84,269.93 227.32,269.91 227.80,269.70 228.29,269.90 228.78,269.83 229.27,269.96 229.77,269.40 230.26,269.91 230.76,269.30 231.26,269.82 231.75,269.69 232.24,269.62 232.73,269.94 233.22,269.66 233.70,269.54 234.18,269.79 234.64,269.84 235.10,269.64 235.56,269.47 236.01,269.51 236.46,269.50 236.90,269.67 237.35,269.36 237.80,269.42 238.26,269.53 238.71,269.40 239.18,269.36 239.65,269.68 240.13,269.73 240.63,269.49 241.13,269.46 241.65,269.30 242.18,269.40 242.73,269.32 243.30,269.65 243.72,269.68 244.14,269.37 244.58,269.98 245.02,269.59 245.48,269.99 245.94,270.02 246.40,270.14 246.88,269.65 247.35,269.85 247.84,270.23 248.33,269.64 248.82,269.71 249.31,270.12 249.81,270.12 250.31,270.47 250.82,270.42 251.32,270.31 251.83,270.69 252.33,270.41 252.84,270.47 253.34,270.65 253.84,270.50 254.34,270.55 254.84,270.78 255.34,270.68 255.83,271.17 256.32,271.05 256.80,271.02 257.31,270.80 257.83,271.08 258.37,271.20 258.92,271.41 259.47,271.52 260.04,271.85 260.61,272.02 261.19,271.80 261.77,271.89 262.35,272.14 262.93,272.53 263.50,272.19 264.06,272.45 264.62,272.77 265.17,272.44 265.70,272.66 266.23,273.24 266.73,273.25 267.22,273.14 267.68,272.97 268.12,273.62 268.54,273.57 268.94,273.75 269.30,273.95 269.63,273.95 269.93,273.69 270.20,273.56" fill="none" stroke="#21407f" stroke-width="1.8" stroke-linejoin="round"/>
<polyline points="178.90,335.25 179.18,335.40 179.54,335.37 179.96,335.11 180.44,335.07 180.95,335.34 181.50,335.27 182.07,335.06 182.64,335.48 183.21,335.22 183.77,334.80 184.29,335.09 184.78,335.40 185.22,335.15 185.60,335.53 186.30,335.58 186.85,336.60 187.29,337.90 187.67,338.56 188.06,339.19 188.50,338.99 188.98,338.87 189.47,338.26 189.95,337.15 190.43,336.29 190.92,334.92 191.40,333.85 191.89,331.98 192.40,330.07 192.91,327.92 193.41,325.88 193.87,324.19 194.30,321.62 194.85,318.44 195.31,315.21 195.75,312.05 196.20,308.73 196.67,304.83 197.15,301.02 197.62,296.56 198.10,292.76 198.57,289.71 199.04,285.93 199.52,282.88 200.00,279.50 200.38,277.02 200.75,274.85 201.14,272.61 201.55,271.17 202.00,269.06 202.41,267.40 202.83,266.06 203.28,264.68 203.76,263.20 204.26,262.63 204.80,261.36 205.22,260.90 205.65,259.88 206.10,259.40 206.56,258.59 207.05,257.93 207.57,258.08 208.11,257.58 208.70,256.77 209.12,256.91 209.56,256.59 210.02,256.00 210.50,255.98 210.99,256.02 211.49,255.50 211.99,255.63 212.50,254.97 213.01,254.92 213.52,255.00 214.01,254.52 214.50,254.47 214.97,254.75 215.41,254.38 215.84,254.51 216.26,254.05 216.68,253.93 217.11,254.01 217.55,253.86 218.01,254.39 218.50,253.92 219.03,254.13 219.59,253.86 220.20,254.22 220.59,254.17 221.00,254.25 221.43,254.09 221.87,254.21 222.32,254.80 222.79,254.57 223.27,254.60 223.75,254.68 224.25,254.87 224.75,254.96 225.26,254.95 225.77,255.52 226.28,255.43 226.79,255.44 227.30,255.96 227.81,255.67 228.32,255.94 228.82,256.47 229.31,256.11 229.80,256.46 230.28,256.87 230.77,256.98 231.25,256.66 231.74,256.93 232.22,257.33 232.71,257.23 233.19,257.78 233.68,257.39 234.16,258.06 234.65,257.89 235.14,257.84 235.62,258.15 236.11,258.07 236.59,258.63 237.08,258.47 237.56,259.06 238.05,259.00 238.53,259.00 239.02,259.07 239.50,259.48 239.98,259.35 240.46,259.97 240.93,259.60 241.40,260.04 241.86,260.21 242.33,260.18 242.79,260.70 243.26,260.59 243.72,260.94 244.19,261.04 244.66,261.03 245.13,261.25 245.60,261.20 246.08,261.43 246.57,262.08 247.06,261.88 247.56,262.29 248.06,262.07 248.58,262.57 249.10,262.60 249.54,262.85 250.00,262.86 250.46,262.85 250.93,263.18 251.40,263.28 251.89,263.37 252.37,263.94 252.86,263.80 253.36,264.05 253.85,264.57 254.35,264.64 254.85,264.88 255.35,265.03 255.85,264.68 256.34,264.95 256.84,264.94 257.33,265.55 257.81,265.70 258.30,265.64 258.77,265.84 259.24,266.17 259.70,266.35 260.16,266.18 260.60,266.74 261.13,266.57 261.68,266.94 262.23,266.81 262.80,266.95 263.36,267.69 263.92,267.74 264.48,267.91 265.04,267.62 265.58,267.79 266.12,268.05 266.64,268.24 267.14,268.48 267.63,268.69 268.09,268.60 268.52,268.93 268.92,269.29 269.30,269.09 269.64,269.66 269.94,269.56 270.20,269.75" fill="none" stroke="#a8002a" stroke-width="1.8" stroke-linejoin="round"/>
<line x1="187.3" y1="356.5" x2="187.3" y2="351.90000000000003" stroke="#000" stroke-width="1.5" />
<path d="M183.60,354.10 L187.30,351.90 L191.00,354.10 L187.30,345.80 Z" fill="#000"/>
<text x="195.0" y="352.3" font-size="8.2" text-anchor="start" font-weight="normal" fill="#000" >1 min</text>
<line x1="195.2" y1="356.2" x2="213.8" y2="356.2" stroke="#000" stroke-width="1.5" />
<rect x="243.7" y="311" width="10.2" height="7.5" fill="#a3002b"/>
<text x="257.7" y="317.7" font-size="8.5" text-anchor="start" font-weight="normal" fill="#000" >WT</text>
<rect x="243.7" y="323.5" width="10.2" height="7.5" fill="#2f4a7d"/>
<text x="257.9" y="330.2" font-size="8.5" text-anchor="start" font-weight="normal" fill="#000" >KO</text>
<text x="288.7" y="18.8" font-size="13" text-anchor="start" font-weight="bold" fill="#000" stroke="#000" stroke-width="0.35">B</text>
<text x="299.65" y="35.55" font-size="10.3" text-anchor="start" font-weight="bold" fill="#000" letter-spacing="0.6" stroke="#000" stroke-width="0.2">(i)</text>
<text x="298.25" y="193.65" font-size="10.3" text-anchor="start" font-weight="bold" fill="#000" letter-spacing="0.6" stroke="#000" stroke-width="0.2">(ii)</text>
<line x1="358.3" y1="39.399999999999984" x2="358.3" y2="163.79999999999998" stroke="#000" stroke-width="1.3" />
<line x1="354.90000000000003" y1="163.2" x2="358.3" y2="163.2" stroke="#000" stroke-width="1.2" />
<text x="351.6" y="166.39999999999998" font-size="9" text-anchor="end" font-weight="normal" fill="#000" >0</text>
<line x1="354.90000000000003" y1="122.13333333333333" x2="358.3" y2="122.13333333333333" stroke="#000" stroke-width="1.2" />
<text x="351.6" y="125.33333333333333" font-size="9" text-anchor="end" font-weight="normal" fill="#000" >100</text>
<line x1="354.90000000000003" y1="81.06666666666665" x2="358.3" y2="81.06666666666665" stroke="#000" stroke-width="1.2" />
<text x="351.6" y="84.26666666666665" font-size="9" text-anchor="end" font-weight="normal" fill="#000" >200</text>
<line x1="354.90000000000003" y1="39.999999999999986" x2="358.3" y2="39.999999999999986" stroke="#000" stroke-width="1.2" />
<text x="351.6" y="43.19999999999999" font-size="9" text-anchor="end" font-weight="normal" fill="#000" >300</text>
<line x1="368.65" y1="108.6" x2="368.65" y2="114.5" stroke="#000" stroke-width="1.2" />
<line x1="365.65" y1="108.6" x2="371.65" y2="108.6" stroke="#000" stroke-width="1.2" />
<rect x="362.4" y="114.5" width="12.5" height="48.69999999999999" fill="#a3002b"/>
<line x1="385.75" y1="151.6" x2="385.75" y2="155" stroke="#000" stroke-width="1.2" />
<line x1="382.75" y1="151.6" x2="388.75" y2="151.6" stroke="#000" stroke-width="1.2" />
<rect x="379.5" y="155" width="12.5" height="8.199999999999989" fill="#2f4a7d"/>
<line x1="377.2" y1="163.2" x2="377.2" y2="166.79999999999998" stroke="#000" stroke-width="1.2" />
<line x1="404.45" y1="68" x2="404.45" y2="73.8" stroke="#000" stroke-width="1.2" />
<line x1="401.45" y1="68" x2="407.45" y2="68" stroke="#000" stroke-width="1.2" />
<rect x="398.2" y="73.8" width="12.5" height="89.39999999999999" fill="#a3002b"/>
<line x1="421.55" y1="97.5" x2="421.55" y2="108" stroke="#000" stroke-width="1.2" />
<line x1="418.55" y1="97.5" x2="424.55" y2="97.5" stroke="#000" stroke-width="1.2" />
<rect x="415.3" y="108" width="12.5" height="55.19999999999999" fill="#2f4a7d"/>
<line x1="413.0" y1="163.2" x2="413.0" y2="166.79999999999998" stroke="#000" stroke-width="1.2" />
<line x1="440.75" y1="59.6" x2="440.75" y2="61.7" stroke="#000" stroke-width="1.2" />
<line x1="437.75" y1="59.6" x2="443.75" y2="59.6" stroke="#000" stroke-width="1.2" />
<rect x="434.5" y="61.7" width="12.5" height="101.49999999999999" fill="#a3002b"/>
<line x1="457.85" y1="69" x2="457.85" y2="73.3" stroke="#000" stroke-width="1.2" />
<line x1="454.85" y1="69" x2="460.85" y2="69" stroke="#000" stroke-width="1.2" />
<rect x="451.6" y="73.3" width="12.5" height="89.89999999999999" fill="#2f4a7d"/>
<line x1="449.3" y1="163.2" x2="449.3" y2="166.79999999999998" stroke="#000" stroke-width="1.2" />
<line x1="357.7" y1="163.2" x2="468.3" y2="163.2" stroke="#000" stroke-width="1.3" />
<line x1="369" y1="103.9" x2="385.8" y2="103.9" stroke="#000" stroke-width="1.2" />
<text x="377.4" y="102.60000000000001" font-size="7" text-anchor="middle" font-weight="bold" fill="#000" >***</text>
<line x1="405" y1="63.9" x2="421.7" y2="63.9" stroke="#000" stroke-width="1.2" />
<text x="413.35" y="62.6" font-size="7" text-anchor="middle" font-weight="bold" fill="#000" >***</text>
<rect x="365.3" y="38.5" width="10.6" height="7.9" fill="#a3002b"/>
<text x="379.0" y="45.1" font-size="8.4" text-anchor="start" font-weight="normal" fill="#000" >WT</text>
<rect x="365.3" y="51.3" width="10.6" height="7.8" fill="#2f4a7d"/>
<text x="379.2" y="57.7" font-size="8.4" text-anchor="start" font-weight="normal" fill="#000" >KO</text>
<text x="377.2" y="177.8" font-size="8.8" text-anchor="middle" font-weight="normal" fill="#000" >0.3</text>
<text x="413.0" y="177.8" font-size="8.8" text-anchor="middle" font-weight="normal" fill="#000" >0.6</text>
<text x="449.3" y="177.8" font-size="8.8" text-anchor="middle" font-weight="normal" fill="#000" >2</text>
<text transform="translate(317.2,100.3) rotate(-90) scale(0.7,1)" font-size="10.5" text-anchor="middle" font-weight="normal" stroke="#000" stroke-width="0.25">AUC</text>
<text transform="translate(328.9,100.4) rotate(-90) scale(0.78,1)" font-size="10.3" text-anchor="middle" font-weight="normal" stroke="#000" stroke-width="0.25">(arbitrary units)</text>
<line x1="358.3" y1="199.9" x2="358.3" y2="324.40000000000003" stroke="#000" stroke-width="1.3" />
<line x1="354.90000000000003" y1="323.8" x2="358.3" y2="323.8" stroke="#000" stroke-width="1.2" />
<text x="351.6" y="327.0" font-size="9" text-anchor="end" font-weight="normal" fill="#000" >0</text>
<line x1="354.90000000000003" y1="299.14" x2="358.3" y2="299.14" stroke="#000" stroke-width="1.2" />
<text x="351.6" y="302.34" font-size="9" text-anchor="end" font-weight="normal" fill="#000" >1</text>
<line x1="354.90000000000003" y1="274.48" x2="358.3" y2="274.48" stroke="#000" stroke-width="1.2" />
<text x="351.6" y="277.68" font-size="9" text-anchor="end" font-weight="normal" fill="#000" >2</text>
<line x1="354.90000000000003" y1="249.82" x2="358.3" y2="249.82" stroke="#000" stroke-width="1.2" />
<text x="351.6" y="253.01999999999998" font-size="9" text-anchor="end" font-weight="normal" fill="#000" >3</text>
<line x1="354.90000000000003" y1="225.16000000000003" x2="358.3" y2="225.16000000000003" stroke="#000" stroke-width="1.2" />
<text x="351.6" y="228.36" font-size="9" text-anchor="end" font-weight="normal" fill="#000" >4</text>
<line x1="354.90000000000003" y1="200.5" x2="358.3" y2="200.5" stroke="#000" stroke-width="1.2" />
<text x="351.6" y="203.7" font-size="9" text-anchor="end" font-weight="normal" fill="#000" >5</text>
<line x1="368.65" y1="312" x2="368.65" y2="317.5" stroke="#000" stroke-width="1.2" />
<line x1="365.65" y1="312" x2="371.65" y2="312" stroke="#000" stroke-width="1.2" />
<rect x="362.4" y="317.5" width="12.5" height="6.300000000000011" fill="#a3002b"/>
<line x1="385.75" y1="321.4" x2="385.75" y2="322.5" stroke="#000" stroke-width="1.2" />
<line x1="382.75" y1="321.4" x2="388.75" y2="321.4" stroke="#000" stroke-width="1.2" />
<rect x="379.5" y="322.5" width="12.5" height="1.3000000000000114" fill="#2f4a7d"/>
<line x1="377.2" y1="323.8" x2="377.2" y2="327.40000000000003" stroke="#000" stroke-width="1.2" />
<line x1="404.45" y1="268.7" x2="404.45" y2="280.8" stroke="#000" stroke-width="1.2" />
<line x1="401.45" y1="268.7" x2="407.45" y2="268.7" stroke="#000" stroke-width="1.2" />
<rect x="398.2" y="280.8" width="12.5" height="43.0" fill="#a3002b"/>
<line x1="421.55" y1="301.8" x2="421.55" y2="307.7" stroke="#000" stroke-width="1.2" />
<line x1="418.55" y1="301.8" x2="424.55" y2="301.8" stroke="#000" stroke-width="1.2" />
<rect x="415.3" y="307.7" width="12.5" height="16.100000000000023" fill="#2f4a7d"/>
<line x1="413.0" y1="323.8" x2="413.0" y2="327.40000000000003" stroke="#000" stroke-width="1.2" />
<line x1="440.75" y1="227.5" x2="440.75" y2="234.2" stroke="#000" stroke-width="1.2" />
<line x1="437.75" y1="227.5" x2="443.75" y2="227.5" stroke="#000" stroke-width="1.2" />
<rect x="434.5" y="234.2" width="12.5" height="89.60000000000002" fill="#a3002b"/>
<line x1="457.85" y1="233" x2="457.85" y2="249.8" stroke="#000" stroke-width="1.2" />
<line x1="454.85" y1="233" x2="460.85" y2="233" stroke="#000" stroke-width="1.2" />
<rect x="451.6" y="249.8" width="12.5" height="74.0" fill="#2f4a7d"/>
<line x1="449.3" y1="323.8" x2="449.3" y2="327.40000000000003" stroke="#000" stroke-width="1.2" />
<line x1="357.7" y1="323.8" x2="468.3" y2="323.8" stroke="#000" stroke-width="1.3" />
<line x1="404.6" y1="264" x2="421.3" y2="264" stroke="#000" stroke-width="1.2" />
<text x="412.95000000000005" y="262.7" font-size="7" text-anchor="middle" font-weight="bold" fill="#000" >*</text>
<rect x="365.3" y="199.2" width="10.6" height="7.9" fill="#a3002b"/>
<text x="379.0" y="205.79999999999998" font-size="8.4" text-anchor="start" font-weight="normal" fill="#000" >WT</text>
<rect x="365.3" y="212.0" width="10.6" height="7.8" fill="#2f4a7d"/>
<text x="379.2" y="218.39999999999998" font-size="8.4" text-anchor="start" font-weight="normal" fill="#000" >KO</text>
<text x="377.2" y="338.6" font-size="8.8" text-anchor="middle" font-weight="normal" fill="#000" >0.3</text>
<text x="413.0" y="338.6" font-size="8.8" text-anchor="middle" font-weight="normal" fill="#000" >0.6</text>
<text x="449.3" y="338.6" font-size="8.8" text-anchor="middle" font-weight="normal" fill="#000" >2</text>
<line x1="375.9" y1="343.9" x2="451" y2="343.9" stroke="#000" stroke-width="1.2" />
<text x="413.2" y="355.5" font-size="9" text-anchor="middle" font-weight="normal" fill="#000" >CRP (μg/mL)</text>
<text transform="translate(327.6,260.4) rotate(-90) scale(0.69,1)" font-size="10.4" text-anchor="middle" font-weight="normal" stroke="#000" stroke-width="0.25">Peak ATP</text>
<text transform="translate(339.2,261.0) rotate(-90) scale(0.72,1)" font-size="10.4" text-anchor="middle" font-weight="normal" stroke="#000" stroke-width="0.25">nmol/10<tspan font-size='7' dy='-3.8'>8</tspan><tspan dy='3.8'> platelets</tspan></text>
<text x="7.5" y="387.0" font-size="13" text-anchor="start" font-weight="bold" fill="#000" stroke="#000" stroke-width="0.35">C</text>
<text x="17.75" y="402.45" font-size="10.3" text-anchor="start" font-weight="bold" fill="#000" letter-spacing="0.6" stroke="#000" stroke-width="0.2">(i)</text>
<text x="16.75" y="568.65" font-size="10.3" text-anchor="start" font-weight="bold" fill="#000" letter-spacing="0.6" stroke="#000" stroke-width="0.2">(ii)</text>
<line x1="69.0" y1="407.6" x2="69.0" y2="539.2" stroke="#000" stroke-width="1.3" />
<line x1="65.4" y1="538.6" x2="69.0" y2="538.6" stroke="#000" stroke-width="1.2" />
<text x="61.3" y="541.8000000000001" font-size="9" text-anchor="end" font-weight="normal" fill="#000" >0</text>
<line x1="65.4" y1="512.5" x2="69.0" y2="512.5" stroke="#000" stroke-width="1.2" />
<text x="61.3" y="515.7" font-size="9" text-anchor="end" font-weight="normal" fill="#000" >1000</text>
<line x1="65.4" y1="486.5" x2="69.0" y2="486.5" stroke="#000" stroke-width="1.2" />
<text x="61.3" y="489.7" font-size="9" text-anchor="end" font-weight="normal" fill="#000" >2000</text>
<line x1="65.4" y1="460.4" x2="69.0" y2="460.4" stroke="#000" stroke-width="1.2" />
<text x="61.3" y="463.59999999999997" font-size="9" text-anchor="end" font-weight="normal" fill="#000" >3000</text>
<line x1="65.4" y1="434.3" x2="69.0" y2="434.3" stroke="#000" stroke-width="1.2" />
<text x="61.3" y="437.5" font-size="9" text-anchor="end" font-weight="normal" fill="#000" >4000</text>
<line x1="65.4" y1="408.3" x2="69.0" y2="408.3" stroke="#000" stroke-width="1.2" />
<text x="61.3" y="411.5" font-size="9" text-anchor="end" font-weight="normal" fill="#000" >5000</text>
<line x1="73.85" y1="525.4" x2="73.85" y2="528.1" stroke="#000" stroke-width="1.2" />
<line x1="71.64999999999999" y1="525.4" x2="76.05" y2="525.4" stroke="#000" stroke-width="1.2" />
<rect x="70.7" y="528.1" width="6.299999999999997" height="10.5" fill="#a3002b"/>
<line x1="82.25" y1="527.8" x2="82.25" y2="530.1" stroke="#000" stroke-width="1.2" />
<line x1="80.05" y1="527.8" x2="84.45" y2="527.8" stroke="#000" stroke-width="1.2" />
<rect x="79.10000000000001" y="530.1" width="6.299999999999997" height="8.5" fill="#2f4a7d"/>
<line x1="77.7" y1="538.6" x2="77.7" y2="541.6" stroke="#000" stroke-width="1.2" />
<line x1="92.44999999999999" y1="509.8" x2="92.44999999999999" y2="515" stroke="#000" stroke-width="1.2" />
<line x1="90.24999999999999" y1="509.8" x2="94.64999999999999" y2="509.8" stroke="#000" stroke-width="1.2" />
<rect x="89.3" y="515" width="6.299999999999997" height="23.600000000000023" fill="#a3002b"/>
<line x1="100.85" y1="525.4" x2="100.85" y2="527.5" stroke="#000" stroke-width="1.2" />
<line x1="98.64999999999999" y1="525.4" x2="103.05" y2="525.4" stroke="#000" stroke-width="1.2" />
<rect x="97.7" y="527.5" width="6.299999999999997" height="11.100000000000023" fill="#2f4a7d"/>
<line x1="96.3" y1="538.6" x2="96.3" y2="541.6" stroke="#000" stroke-width="1.2" />
<line x1="111.15" y1="468" x2="111.15" y2="479.5" stroke="#000" stroke-width="1.2" />
<line x1="108.95" y1="468" x2="113.35000000000001" y2="468" stroke="#000" stroke-width="1.2" />
<rect x="108.0" y="479.5" width="6.299999999999997" height="59.10000000000002" fill="#a3002b"/>
<line x1="119.55000000000001" y1="514.7" x2="119.55000000000001" y2="520.7" stroke="#000" stroke-width="1.2" />
<line x1="117.35000000000001" y1="514.7" x2="121.75000000000001" y2="514.7" stroke="#000" stroke-width="1.2" />
<rect x="116.4" y="520.7" width="6.299999999999997" height="17.899999999999977" fill="#2f4a7d"/>
<line x1="115.0" y1="538.6" x2="115.0" y2="541.6" stroke="#000" stroke-width="1.2" />
<line x1="129.55" y1="437" x2="129.55" y2="450" stroke="#000" stroke-width="1.2" />
<line x1="127.35000000000001" y1="437" x2="131.75" y2="437" stroke="#000" stroke-width="1.2" />
<rect x="126.4" y="450" width="6.300000000000011" height="88.60000000000002" fill="#a3002b"/>
<line x1="137.95" y1="478" x2="137.95" y2="492" stroke="#000" stroke-width="1.2" />
<line x1="135.75" y1="478" x2="140.14999999999998" y2="478" stroke="#000" stroke-width="1.2" />
<rect x="134.8" y="492" width="6.299999999999983" height="46.60000000000002" fill="#2f4a7d"/>
<line x1="133.4" y1="538.6" x2="133.4" y2="541.6" stroke="#000" stroke-width="1.2" />
<line x1="148.25" y1="428.5" x2="148.25" y2="442.3" stroke="#000" stroke-width="1.2" />
<line x1="146.05" y1="428.5" x2="150.45" y2="428.5" stroke="#000" stroke-width="1.2" />
<rect x="145.1" y="442.3" width="6.300000000000011" height="96.30000000000001" fill="#a3002b"/>
<line x1="156.64999999999998" y1="446.3" x2="156.64999999999998" y2="459.3" stroke="#000" stroke-width="1.2" />
<line x1="154.45" y1="446.3" x2="158.84999999999997" y2="446.3" stroke="#000" stroke-width="1.2" />
<rect x="153.5" y="459.3" width="6.299999999999983" height="79.30000000000001" fill="#2f4a7d"/>
<line x1="152.1" y1="538.6" x2="152.1" y2="541.6" stroke="#000" stroke-width="1.2" />
<line x1="166.75" y1="425.6" x2="166.75" y2="440" stroke="#000" stroke-width="1.2" />
<line x1="164.55" y1="425.6" x2="168.95" y2="425.6" stroke="#000" stroke-width="1.2" />
<rect x="163.6" y="440" width="6.300000000000011" height="98.60000000000002" fill="#a3002b"/>
<line x1="175.14999999999998" y1="424" x2="175.14999999999998" y2="438.5" stroke="#000" stroke-width="1.2" />
<line x1="172.95" y1="424" x2="177.34999999999997" y2="424" stroke="#000" stroke-width="1.2" />
<rect x="172.0" y="438.5" width="6.299999999999983" height="100.10000000000002" fill="#2f4a7d"/>
<line x1="170.6" y1="538.6" x2="170.6" y2="541.6" stroke="#000" stroke-width="1.2" />
<line x1="185.05" y1="423.8" x2="185.05" y2="437.7" stroke="#000" stroke-width="1.2" />
<line x1="182.85000000000002" y1="423.8" x2="187.25" y2="423.8" stroke="#000" stroke-width="1.2" />
<rect x="181.9" y="437.7" width="6.300000000000011" height="100.90000000000003" fill="#a3002b"/>
<line x1="193.45" y1="419.8" x2="193.45" y2="434.8" stroke="#000" stroke-width="1.2" />
<line x1="191.25" y1="419.8" x2="195.64999999999998" y2="419.8" stroke="#000" stroke-width="1.2" />
<rect x="190.3" y="434.8" width="6.299999999999983" height="103.80000000000001" fill="#2f4a7d"/>
<line x1="188.9" y1="538.6" x2="188.9" y2="541.6" stroke="#000" stroke-width="1.2" />
<line x1="65.4" y1="538.6" x2="199.5" y2="538.6" stroke="#000" stroke-width="1.3" />
<line x1="110" y1="465" x2="120.2" y2="465" stroke="#000" stroke-width="1.2" />
<text x="115.1" y="463.5" font-size="7" text-anchor="middle" font-weight="bold" fill="#000" >****</text>
<line x1="129.7" y1="432.8" x2="139" y2="432.8" stroke="#000" stroke-width="1.2" />
<text x="134.35" y="431.3" font-size="7" text-anchor="middle" font-weight="bold" fill="#000" >****</text>
<line x1="148.5" y1="425.3" x2="156.8" y2="425.3" stroke="#000" stroke-width="1.2" />
<text x="152.65" y="423.8" font-size="7" text-anchor="middle" font-weight="bold" fill="#000" >*</text>
<rect x="75.6" y="405.1" width="10.3" height="8.4" fill="#a3002b"/>
<text x="89.3" y="412.20000000000005" font-size="8.5" text-anchor="start" font-weight="normal" fill="#000" >WT</text>
<rect x="75.6" y="418.40000000000003" width="10.3" height="7.9" fill="#2f4a7d"/>
<text x="89.6" y="425.0" font-size="8.5" text-anchor="start" font-weight="normal" fill="#000" >KO</text>
<text x="77.7" y="552.7" font-size="8.5" text-anchor="middle" font-weight="normal" fill="#000" >Basal</text>
<text x="96.3" y="552.7" font-size="8.5" text-anchor="middle" font-weight="normal" fill="#000" >0.1</text>
<text x="115.0" y="552.7" font-size="8.5" text-anchor="middle" font-weight="normal" fill="#000" >0.3</text>
<text x="133.4" y="552.7" font-size="8.5" text-anchor="middle" font-weight="normal" fill="#000" >1</text>
<text x="152.1" y="552.7" font-size="8.5" text-anchor="middle" font-weight="normal" fill="#000" >3</text>
<text x="170.6" y="552.7" font-size="8.5" text-anchor="middle" font-weight="normal" fill="#000" >10</text>
<text x="188.9" y="552.7" font-size="8.5" text-anchor="middle" font-weight="normal" fill="#000" >30</text>
<text transform="translate(35.9,472.4) rotate(-90) scale(0.78,1)" font-size="10.3" text-anchor="middle" font-weight="normal" stroke="#000" stroke-width="0.25">JON/A binding (MFI)</text>
<line x1="69.0" y1="574.6" x2="69.0" y2="706.3000000000001" stroke="#000" stroke-width="1.3" />
<line x1="65.4" y1="705.7" x2="69.0" y2="705.7" stroke="#000" stroke-width="1.2" />
<text x="61.3" y="708.9000000000001" font-size="9" text-anchor="end" font-weight="normal" fill="#000" >0</text>
<line x1="65.4" y1="673" x2="69.0" y2="673" stroke="#000" stroke-width="1.2" />
<text x="61.3" y="676.2" font-size="9" text-anchor="end" font-weight="normal" fill="#000" >200</text>
<line x1="65.4" y1="640.4" x2="69.0" y2="640.4" stroke="#000" stroke-width="1.2" />
<text x="61.3" y="643.6" font-size="9" text-anchor="end" font-weight="normal" fill="#000" >400</text>
<line x1="65.4" y1="607.8" x2="69.0" y2="607.8" stroke="#000" stroke-width="1.2" />
<text x="61.3" y="611.0" font-size="9" text-anchor="end" font-weight="normal" fill="#000" >600</text>
<line x1="65.4" y1="575.2" x2="69.0" y2="575.2" stroke="#000" stroke-width="1.2" />
<text x="61.3" y="578.4000000000001" font-size="9" text-anchor="end" font-weight="normal" fill="#000" >800</text>
<line x1="73.85" y1="692.4" x2="73.85" y2="694.8" stroke="#000" stroke-width="1.2" />
<line x1="71.64999999999999" y1="692.4" x2="76.05" y2="692.4" stroke="#000" stroke-width="1.2" />
<rect x="70.7" y="694.8" width="6.299999999999997" height="10.900000000000091" fill="#a3002b"/>
<line x1="82.25" y1="693.2" x2="82.25" y2="695.4" stroke="#000" stroke-width="1.2" />
<line x1="80.05" y1="693.2" x2="84.45" y2="693.2" stroke="#000" stroke-width="1.2" />
<rect x="79.10000000000001" y="695.4" width="6.299999999999997" height="10.300000000000068" fill="#2f4a7d"/>
<line x1="77.7" y1="705.7" x2="77.7" y2="708.7" stroke="#000" stroke-width="1.2" />
<line x1="92.44999999999999" y1="685.6" x2="92.44999999999999" y2="688.7" stroke="#000" stroke-width="1.2" />
<line x1="90.24999999999999" y1="685.6" x2="94.64999999999999" y2="685.6" stroke="#000" stroke-width="1.2" />
<rect x="89.3" y="688.7" width="6.299999999999997" height="17.0" fill="#a3002b"/>
<line x1="100.85" y1="693" x2="100.85" y2="695.4" stroke="#000" stroke-width="1.2" />
<line x1="98.64999999999999" y1="693" x2="103.05" y2="693" stroke="#000" stroke-width="1.2" />
<rect x="97.7" y="695.4" width="6.299999999999997" height="10.300000000000068" fill="#2f4a7d"/>
<line x1="96.3" y1="705.7" x2="96.3" y2="708.7" stroke="#000" stroke-width="1.2" />
<line x1="111.15" y1="659.5" x2="111.15" y2="667" stroke="#000" stroke-width="1.2" />
<line x1="108.95" y1="659.5" x2="113.35000000000001" y2="659.5" stroke="#000" stroke-width="1.2" />
<rect x="108.0" y="667" width="6.299999999999997" height="38.700000000000045" fill="#a3002b"/>
<line x1="119.55000000000001" y1="692.6" x2="119.55000000000001" y2="694.1" stroke="#000" stroke-width="1.2" />
<line x1="117.35000000000001" y1="692.6" x2="121.75000000000001" y2="692.6" stroke="#000" stroke-width="1.2" />
<rect x="116.4" y="694.1" width="6.299999999999997" height="11.600000000000023" fill="#2f4a7d"/>
<line x1="115.0" y1="705.7" x2="115.0" y2="708.7" stroke="#000" stroke-width="1.2" />
<line x1="129.55" y1="617.1" x2="129.55" y2="630" stroke="#000" stroke-width="1.2" />
<line x1="127.35000000000001" y1="617.1" x2="131.75" y2="617.1" stroke="#000" stroke-width="1.2" />
<rect x="126.4" y="630" width="6.300000000000011" height="75.70000000000005" fill="#a3002b"/>
<line x1="137.95" y1="680.6" x2="137.95" y2="685.8" stroke="#000" stroke-width="1.2" />
<line x1="135.75" y1="680.6" x2="140.14999999999998" y2="680.6" stroke="#000" stroke-width="1.2" />
<rect x="134.8" y="685.8" width="6.299999999999983" height="19.90000000000009" fill="#2f4a7d"/>
<line x1="133.4" y1="705.7" x2="133.4" y2="708.7" stroke="#000" stroke-width="1.2" />
<line x1="148.25" y1="602.7" x2="148.25" y2="614.8" stroke="#000" stroke-width="1.2" />
<line x1="146.05" y1="602.7" x2="150.45" y2="602.7" stroke="#000" stroke-width="1.2" />
<rect x="145.1" y="614.8" width="6.300000000000011" height="90.90000000000009" fill="#a3002b"/>
<line x1="156.64999999999998" y1="648.8" x2="156.64999999999998" y2="661.8" stroke="#000" stroke-width="1.2" />
<line x1="154.45" y1="648.8" x2="158.84999999999997" y2="648.8" stroke="#000" stroke-width="1.2" />
<rect x="153.5" y="661.8" width="6.299999999999983" height="43.90000000000009" fill="#2f4a7d"/>
<line x1="152.1" y1="705.7" x2="152.1" y2="708.7" stroke="#000" stroke-width="1.2" />
<line x1="166.75" y1="595.2" x2="166.75" y2="606.7" stroke="#000" stroke-width="1.2" />
<line x1="164.55" y1="595.2" x2="168.95" y2="595.2" stroke="#000" stroke-width="1.2" />
<rect x="163.6" y="606.7" width="6.300000000000011" height="99.0" fill="#a3002b"/>
<line x1="175.14999999999998" y1="637.9" x2="175.14999999999998" y2="648.8" stroke="#000" stroke-width="1.2" />
<line x1="172.95" y1="637.9" x2="177.34999999999997" y2="637.9" stroke="#000" stroke-width="1.2" />
<rect x="172.0" y="648.8" width="6.299999999999983" height="56.90000000000009" fill="#2f4a7d"/>
<line x1="170.6" y1="705.7" x2="170.6" y2="708.7" stroke="#000" stroke-width="1.2" />
<line x1="185.05" y1="591.7" x2="185.05" y2="603.8" stroke="#000" stroke-width="1.2" />
<line x1="182.85000000000002" y1="591.7" x2="187.25" y2="591.7" stroke="#000" stroke-width="1.2" />
<rect x="181.9" y="603.8" width="6.300000000000011" height="101.90000000000009" fill="#a3002b"/>
<line x1="193.45" y1="626.3" x2="193.45" y2="638.7" stroke="#000" stroke-width="1.2" />
<line x1="191.25" y1="626.3" x2="195.64999999999998" y2="626.3" stroke="#000" stroke-width="1.2" />
<rect x="190.3" y="638.7" width="6.299999999999983" height="67.0" fill="#2f4a7d"/>
<line x1="188.9" y1="705.7" x2="188.9" y2="708.7" stroke="#000" stroke-width="1.2" />
<line x1="65.4" y1="705.7" x2="199.5" y2="705.7" stroke="#000" stroke-width="1.3" />
<line x1="111" y1="655.3" x2="120" y2="655.3" stroke="#000" stroke-width="1.2" />
<text x="115.5" y="653.8" font-size="7" text-anchor="middle" font-weight="bold" fill="#000" >**</text>
<line x1="128" y1="613.4" x2="139.8" y2="613.4" stroke="#000" stroke-width="1.2" />
<text x="133.9" y="611.9" font-size="7" text-anchor="middle" font-weight="bold" fill="#000" >****</text>
<line x1="146.7" y1="598.4" x2="158.5" y2="598.4" stroke="#000" stroke-width="1.2" />
<text x="152.6" y="596.9" font-size="7" text-anchor="middle" font-weight="bold" fill="#000" >****</text>
<line x1="164.9" y1="590.3" x2="177.3" y2="590.3" stroke="#000" stroke-width="1.2" />
<text x="171.10000000000002" y="588.8" font-size="7" text-anchor="middle" font-weight="bold" fill="#000" >****</text>
<line x1="185" y1="588.8" x2="195.2" y2="588.8" stroke="#000" stroke-width="1.2" />
<text x="190.1" y="587.3" font-size="7" text-anchor="middle" font-weight="bold" fill="#000" >**</text>
<rect x="75.6" y="572.6" width="10.3" height="8.4" fill="#a3002b"/>
<text x="89.3" y="579.7" font-size="8.5" text-anchor="start" font-weight="normal" fill="#000" >WT</text>
<rect x="75.6" y="585.9" width="10.3" height="7.9" fill="#2f4a7d"/>
<text x="89.6" y="592.5" font-size="8.5" text-anchor="start" font-weight="normal" fill="#000" >KO</text>
<text x="77.7" y="719.8" font-size="8.5" text-anchor="middle" font-weight="normal" fill="#000" >Basal</text>
<text x="96.3" y="719.8" font-size="8.5" text-anchor="middle" font-weight="normal" fill="#000" >0.1</text>
<text x="115.0" y="719.8" font-size="8.5" text-anchor="middle" font-weight="normal" fill="#000" >0.3</text>
<text x="133.4" y="719.8" font-size="8.5" text-anchor="middle" font-weight="normal" fill="#000" >1</text>
<text x="152.1" y="719.8" font-size="8.5" text-anchor="middle" font-weight="normal" fill="#000" >3</text>
<text x="170.6" y="719.8" font-size="8.5" text-anchor="middle" font-weight="normal" fill="#000" >10</text>
<text x="188.9" y="719.8" font-size="8.5" text-anchor="middle" font-weight="normal" fill="#000" >30</text>
<line x1="96.3" y1="725.7" x2="190.6" y2="725.7" stroke="#000" stroke-width="1.2" />
<text x="142.7" y="736" font-size="8.4" text-anchor="middle" font-weight="normal" fill="#000" >CRP(μg/mL)</text>
<text transform="translate(40.5,639.3) rotate(-90) scale(0.7,1)" font-size="10.4" text-anchor="middle" font-weight="normal" stroke="#000" stroke-width="0.25">CD62P exposure (MFI)</text>
<text x="217.2" y="386.9" font-size="13" text-anchor="start" font-weight="bold" fill="#000" stroke="#000" stroke-width="0.35">D</text>
<text x="226.95" y="402.05" font-size="10.3" text-anchor="start" font-weight="bold" fill="#000" letter-spacing="0.6" stroke="#000" stroke-width="0.2">(i)</text>
<text x="226.75" y="555.65" font-size="10.3" text-anchor="start" font-weight="bold" fill="#000" letter-spacing="0.6" stroke="#000" stroke-width="0.2">(ii)</text>
<text x="403.65" y="555.65" font-size="10.3" text-anchor="start" font-weight="bold" fill="#000" letter-spacing="0.6" stroke="#000" stroke-width="0.2">(iii)</text>
<text x="292" y="412.4" font-size="9" text-anchor="middle" font-weight="normal" fill="#000" >WT</text>
<text x="404" y="411.8" font-size="9" text-anchor="middle" font-weight="normal" fill="#000" >KO</text>
<defs><filter id="fw1" x="0" y="0" width="1" height="1" color-interpolation-filters="sRGB">
<feTurbulence type="fractalNoise" baseFrequency="0.06 0.17" numOctaves="4" seed="3" result="t1"/>
<feColorMatrix in="t1" type="matrix" values="4.5 0 0 0 -1.980  4.5 0 0 0 -1.980  4.5 0 0 0 -1.980  0 0 0 0 1" result="m1"/>
<feTurbulence type="fractalNoise" baseFrequency="0.22 0.3" numOctaves="2" seed="9" result="t2"/>
<feColorMatrix in="t2" type="matrix" values="2.6 0 0 0 -0.45  2.6 0 0 0 -0.45  2.6 0 0 0 -0.45  0 0 0 0 1" result="m2"/>
<feComposite in="m1" in2="m2" operator="arithmetic" k1="1" k2="0" k3="0" k4="0" result="c0"/>
<feComposite in="c0" in2="c0" operator="arithmetic" k1="0" k2="1" k3="0" k4="0" result="c"/>
<feGaussianBlur in="c" stdDeviation="0.5"/>
</filter><filter id="fw2" x="0" y="0" width="1" height="1" color-interpolation-filters="sRGB">
<feTurbulence type="fractalNoise" baseFrequency="0.06 0.17" numOctaves="4" seed="3" result="t1"/>
<feColorMatrix in="t1" type="matrix" values="4.5 0 0 0 -2.205  4.5 0 0 0 -2.205  4.5 0 0 0 -2.205  0 0 0 0 1" result="m1"/>
<feTurbulence type="fractalNoise" baseFrequency="0.22 0.3" numOctaves="2" seed="9" result="t2"/>
<feColorMatrix in="t2" type="matrix" values="2.6 0 0 0 -0.45  2.6 0 0 0 -0.45  2.6 0 0 0 -0.45  0 0 0 0 1" result="m2"/>
<feComposite in="m1" in2="m2" operator="arithmetic" k1="1" k2="0" k3="0" k4="0" result="c0"/>
<feComposite in="c0" in2="c0" operator="arithmetic" k1="0" k2="1" k3="0" k4="0" result="c"/>
<feGaussianBlur in="c" stdDeviation="0.5"/>
</filter><filter id="fk1" x="0" y="0" width="1" height="1" color-interpolation-filters="sRGB">
<feTurbulence type="fractalNoise" baseFrequency="0.12 0.19" numOctaves="3" seed="11" result="t1"/>
<feColorMatrix in="t1" type="matrix" values="6.0 0 0 0 -3.240  6.0 0 0 0 -3.240  6.0 0 0 0 -3.240  0 0 0 0 1" result="m1"/>
<feTurbulence type="fractalNoise" baseFrequency="0.45" numOctaves="2" seed="19" result="t2"/>
<feColorMatrix in="t2" type="matrix" values="1.5 0 0 0 0.15  1.5 0 0 0 0.15  1.5 0 0 0 0.15  0 0 0 0 1" result="m2"/>
<feComposite in="m1" in2="m2" operator="arithmetic" k1="1" k2="0" k3="0" k4="0" result="c0"/>
<feComposite in="c0" in2="c0" operator="arithmetic" k1="0" k2="1" k3="0" k4="0" result="c"/>
<feGaussianBlur in="c" stdDeviation="0.5"/>
</filter><filter id="fk2" x="0" y="0" width="1" height="1" color-interpolation-filters="sRGB">
<feTurbulence type="fractalNoise" baseFrequency="0.12 0.19" numOctaves="3" seed="11" result="t1"/>
<feColorMatrix in="t1" type="matrix" values="6.0 0 0 0 -3.420  6.0 0 0 0 -3.420  6.0 0 0 0 -3.420  0 0 0 0 1" result="m1"/>
<feTurbulence type="fractalNoise" baseFrequency="0.45" numOctaves="2" seed="19" result="t2"/>
<feColorMatrix in="t2" type="matrix" values="1.5 0 0 0 0.15  1.5 0 0 0 0.15  1.5 0 0 0 0.15  0 0 0 0 1" result="m2"/>
<feComposite in="m1" in2="m2" operator="arithmetic" k1="1" k2="0" k3="0" k4="0" result="c0"/>
<feComposite in="c0" in2="c0" operator="arithmetic" k1="0" k2="1" k3="0" k4="0" result="c"/>
<feGaussianBlur in="c" stdDeviation="0.5"/>
</filter><linearGradient id="gtop" x1="0" y1="0" x2="0" y2="1"><stop offset="0" stop-color="#fff"/><stop offset="0.35" stop-color="#fff"/><stop offset="0.75" stop-color="#000"/><stop offset="1" stop-color="#000"/></linearGradient><mask id="mw" maskUnits="userSpaceOnUse"><rect x="234.5" y="417" width="111" height="124.5" fill="url(#gtop)"/></mask><mask id="mk" maskUnits="userSpaceOnUse"><rect x="349.3" y="417" width="111.2" height="124.6" fill="url(#gtop)"/></mask></defs>
<rect x="234.5" y="417" width="111" height="124.5" fill="#000"/>
<rect x="234.5" y="417" width="111" height="124.5" fill="#000" filter="url(#fw2)"/>
<rect x="234.5" y="417" width="111" height="124.5" fill="#000" filter="url(#fw1)" mask="url(#mw)"/>
<rect x="349.3" y="417" width="111.2" height="124.6" fill="#000"/>
<rect x="349.3" y="417" width="111.2" height="124.6" fill="#000" filter="url(#fk2)"/>
<rect x="349.3" y="417" width="111.2" height="124.6" fill="#000" filter="url(#fk1)" mask="url(#mk)"/>
<line x1="235.0" y1="417" x2="235.0" y2="541.5" stroke="#777" stroke-width="0.8" />
<rect x="447.3" y="537.1" width="11.1" height="2.4" fill="#888"/>
<line x1="268.9" y1="562.8" x2="268.9" y2="706.2" stroke="#222" stroke-width="1.5" />
<line x1="265.5" y1="696.8" x2="268.9" y2="696.8" stroke="#000" stroke-width="1.2" />
<text x="262.2" y="700.0999999999999" font-size="9.4" text-anchor="end" font-weight="normal" fill="#000" >0</text>
<line x1="265.5" y1="664.15" x2="268.9" y2="664.15" stroke="#000" stroke-width="1.2" />
<text x="262.2" y="667.4499999999999" font-size="9.4" text-anchor="end" font-weight="normal" fill="#000" >10</text>
<line x1="265.5" y1="631.5" x2="268.9" y2="631.5" stroke="#000" stroke-width="1.2" />
<text x="262.2" y="634.8" font-size="9.4" text-anchor="end" font-weight="normal" fill="#000" >20</text>
<line x1="265.5" y1="598.8499999999999" x2="268.9" y2="598.8499999999999" stroke="#000" stroke-width="1.2" />
<text x="262.2" y="602.1499999999999" font-size="9.4" text-anchor="end" font-weight="normal" fill="#000" >30</text>
<line x1="265.5" y1="566.1999999999999" x2="268.9" y2="566.1999999999999" stroke="#000" stroke-width="1.2" />
<text x="262.2" y="569.4999999999999" font-size="9.4" text-anchor="end" font-weight="normal" fill="#000" >40</text>
<line x1="268.2" y1="705.5" x2="391.3" y2="705.5" stroke="#222" stroke-width="1.5" />
<line x1="276.0" y1="705.5" x2="276.0" y2="709.4" stroke="#000" stroke-width="1.2" />
<text x="276.0" y="720.6" font-size="8.5" text-anchor="middle" font-weight="normal" fill="#000" >0</text>
<line x1="294.82" y1="705.5" x2="294.82" y2="709.4" stroke="#000" stroke-width="1.2" />
<text x="294.82" y="720.6" font-size="8.5" text-anchor="middle" font-weight="normal" fill="#000" >30</text>
<line x1="313.64" y1="705.5" x2="313.64" y2="709.4" stroke="#000" stroke-width="1.2" />
<text x="313.64" y="720.6" font-size="8.5" text-anchor="middle" font-weight="normal" fill="#000" >60</text>
<line x1="332.46" y1="705.5" x2="332.46" y2="709.4" stroke="#000" stroke-width="1.2" />
<text x="332.46" y="720.6" font-size="8.5" text-anchor="middle" font-weight="normal" fill="#000" >90</text>
<line x1="351.28" y1="705.5" x2="351.28" y2="709.4" stroke="#000" stroke-width="1.2" />
<text x="351.28" y="720.6" font-size="8.5" text-anchor="middle" font-weight="normal" fill="#000" >120</text>
<line x1="370.1" y1="705.5" x2="370.1" y2="709.4" stroke="#000" stroke-width="1.2" />
<text x="370.1" y="720.6" font-size="8.5" text-anchor="middle" font-weight="normal" fill="#000" >150</text>
<line x1="388.92" y1="705.5" x2="388.92" y2="709.4" stroke="#000" stroke-width="1.2" />
<text x="388.92" y="720.6" font-size="8.5" text-anchor="middle" font-weight="normal" fill="#000" >180</text>
<text transform="translate(330.6,735.6) scale(0.70,1)" font-size="10.5" text-anchor="middle" stroke="#000" stroke-width="0.25">Time (sec)</text>
<text transform="translate(245.4,634.9) rotate(-90) scale(0.8,1)" font-size="9.3" text-anchor="middle" font-weight="normal" stroke="#000" stroke-width="0.25">% surface coverage</text>
<line x1="272.4" y1="566.5" x2="280.1" y2="566.5" stroke="#b0b0b0" stroke-width="1.1" />
<text x="284.2" y="569.9" font-size="8.4" text-anchor="start" font-weight="normal" fill="#000" >WT</text>
<line x1="272.4" y1="580.1" x2="280.1" y2="580.1" stroke="#000" stroke-width="1.1" />
<text x="284.2" y="583.2" font-size="8.4" text-anchor="start" font-weight="normal" fill="#000" >KO</text>
<line x1="276.0" y1="682.7857674629826" x2="276.0" y2="695.6041606724881" stroke="#e3e3e3" stroke-width="0.8" />
<line x1="278.508" y1="682.613240319977" x2="278.508" y2="693.3990221280717" stroke="#e3e3e3" stroke-width="0.8" />
<line x1="281.016" y1="673.3716630756555" x2="281.016" y2="699.1705167497628" stroke="#e3e3e3" stroke-width="0.8" />
<line x1="283.524" y1="676.3239182508771" x2="283.524" y2="689.6013068448842" stroke="#e3e3e3" stroke-width="0.8" />
<line x1="286.032" y1="674.082384469142" x2="286.032" y2="693.0270611057833" stroke="#e3e3e3" stroke-width="0.8" />
<line x1="288.54" y1="673.5788116873737" x2="288.54" y2="690.122177339696" stroke="#e3e3e3" stroke-width="0.8" />
<line x1="291.048" y1="669.4078760618041" x2="291.048" y2="689.0156553675503" stroke="#e3e3e3" stroke-width="0.8" />
<line x1="293.556" y1="668.3540092127632" x2="293.556" y2="687.2233762449027" stroke="#e3e3e3" stroke-width="0.8" />
<line x1="296.064" y1="663.8202149088667" x2="296.064" y2="685.20273320116" stroke="#e3e3e3" stroke-width="0.8" />
<line x1="298.572" y1="667.9971467361706" x2="298.572" y2="678.1243686206828" stroke="#e3e3e3" stroke-width="0.8" />
<line x1="301.08" y1="661.2941529691246" x2="301.08" y2="682.9813291986953" stroke="#e3e3e3" stroke-width="0.8" />
<line x1="303.588" y1="663.4169449486697" x2="303.588" y2="676.8293606102002" stroke="#e3e3e3" stroke-width="0.8" />
<line x1="306.096" y1="658.8004047695947" x2="306.096" y2="676.4033673286426" stroke="#e3e3e3" stroke-width="0.8" />
<line x1="308.604" y1="657.0091648582479" x2="308.604" y2="671.0593544803244" stroke="#e3e3e3" stroke-width="0.8" />
<line x1="311.112" y1="655.7712958246108" x2="311.112" y2="669.1140948113658" stroke="#e3e3e3" stroke-width="0.8" />
<line x1="313.62" y1="653.4390030917414" x2="313.62" y2="670.976618230623" stroke="#e3e3e3" stroke-width="0.8" />
<line x1="316.128" y1="650.2753017372256" x2="316.128" y2="666.6333630679596" stroke="#e3e3e3" stroke-width="0.8" />
<line x1="318.636" y1="649.7306818798336" x2="318.636" y2="664.2293907707462" stroke="#e3e3e3" stroke-width="0.8" />
<line x1="321.144" y1="643.4449161751796" x2="321.144" y2="664.8552254945824" stroke="#e3e3e3" stroke-width="0.8" />
<line x1="323.652" y1="643.9715983850255" x2="323.652" y2="662.6060829322877" stroke="#e3e3e3" stroke-width="0.8" />
<line x1="326.15999999999997" y1="647.4211198047266" x2="326.15999999999997" y2="656.0768402476405" stroke="#e3e3e3" stroke-width="0.8" />
<line x1="328.668" y1="642.1717493128353" x2="328.668" y2="654.715362373832" stroke="#e3e3e3" stroke-width="0.8" />
<line x1="331.176" y1="637.6314751295712" x2="331.176" y2="653.8325221353974" stroke="#e3e3e3" stroke-width="0.8" />
<line x1="333.68399999999997" y1="631.4727805495704" x2="333.68399999999997" y2="655.971098506024" stroke="#e3e3e3" stroke-width="0.8" />
<line x1="336.192" y1="628.6316956263086" x2="336.192" y2="652.6146259913164" stroke="#e3e3e3" stroke-width="0.8" />
<line x1="338.7" y1="630.1320268425308" x2="338.7" y2="647.9526880106383" stroke="#e3e3e3" stroke-width="0.8" />
<line x1="341.20799999999997" y1="633.6811673265972" x2="341.20799999999997" y2="641.9432566217913" stroke="#e3e3e3" stroke-width="0.8" />
<line x1="343.716" y1="623.392326135923" x2="343.716" y2="645.4032141054731" stroke="#e3e3e3" stroke-width="0.8" />
<line x1="346.224" y1="625.3705887888103" x2="346.224" y2="641.0697563883995" stroke="#e3e3e3" stroke-width="0.8" />
<line x1="348.73199999999997" y1="622.5775295421854" x2="348.73199999999997" y2="640.9390816942403" stroke="#e3e3e3" stroke-width="0.8" />
<line x1="351.24" y1="618.7330437674841" x2="351.24" y2="639.4803056728474" stroke="#e3e3e3" stroke-width="0.8" />
<line x1="353.748" y1="615.5495106410989" x2="353.748" y2="634.9297468620515" stroke="#e3e3e3" stroke-width="0.8" />
<line x1="356.256" y1="615.7135675485767" x2="356.256" y2="632.3873906627371" stroke="#e3e3e3" stroke-width="0.8" />
<line x1="358.764" y1="608.977441223976" x2="358.764" y2="633.3883168509394" stroke="#e3e3e3" stroke-width="0.8" />
<line x1="361.272" y1="612.1154938704167" x2="361.272" y2="627.0540105808393" stroke="#e3e3e3" stroke-width="0.8" />
<line x1="363.78" y1="610.0848607932381" x2="363.78" y2="625.1384432252245" stroke="#e3e3e3" stroke-width="0.8" />
<line x1="366.288" y1="605.7075936122429" x2="366.288" y2="629.0418185884918" stroke="#e3e3e3" stroke-width="0.8" />
<line x1="368.796" y1="608.5925362554326" x2="368.796" y2="620.1289631138886" stroke="#e3e3e3" stroke-width="0.8" />
<line x1="371.304" y1="606.5161803094137" x2="371.304" y2="619.8522550965798" stroke="#e3e3e3" stroke-width="0.8" />
<line x1="373.812" y1="599.1047483568841" x2="373.812" y2="622.0451720812937" stroke="#e3e3e3" stroke-width="0.8" />
<line x1="376.32" y1="606.025188845093" x2="376.32" y2="615.214165874012" stroke="#e3e3e3" stroke-width="0.8" />
<line x1="378.828" y1="595.5860062319387" x2="378.828" y2="618.6390216134691" stroke="#e3e3e3" stroke-width="0.8" />
<line x1="381.336" y1="595.0932569843527" x2="381.336" y2="615.5964437468493" stroke="#e3e3e3" stroke-width="0.8" />
<line x1="383.844" y1="596.7980444352172" x2="383.844" y2="612.5888062523002" stroke="#e3e3e3" stroke-width="0.8" />
<line x1="386.352" y1="595.5675129500681" x2="386.352" y2="608.7220124039042" stroke="#e3e3e3" stroke-width="0.8" />
<line x1="388.86" y1="589.7120636608274" x2="388.86" y2="611.7651884649076" stroke="#e3e3e3" stroke-width="0.8" />
<line x1="276.0" y1="694.6" x2="276.0" y2="696.8732026852167" stroke="#c4c4c4" stroke-width="0.7" />
<line x1="278.508" y1="694.1588188790561" x2="278.508" y2="696.2195167282908" stroke="#c4c4c4" stroke-width="0.7" />
<line x1="281.016" y1="693.7176377581121" x2="281.016" y2="695.981147424252" stroke="#c4c4c4" stroke-width="0.7" />
<line x1="283.524" y1="693.2764566371682" x2="283.524" y2="695.6477549055649" stroke="#c4c4c4" stroke-width="0.7" />
<line x1="286.032" y1="692.8352755162242" x2="286.032" y2="695.2342173457081" stroke="#c4c4c4" stroke-width="0.7" />
<line x1="288.54" y1="692.3940943952803" x2="288.54" y2="694.7006876000295" stroke="#c4c4c4" stroke-width="0.7" />
<line x1="291.048" y1="691.9529132743363" x2="291.048" y2="694.1144858755791" stroke="#c4c4c4" stroke-width="0.7" />
<line x1="293.556" y1="691.5117321533924" x2="293.556" y2="694.2017489211808" stroke="#c4c4c4" stroke-width="0.7" />
<line x1="296.064" y1="690.9444176991151" x2="296.064" y2="694.0023854856364" stroke="#c4c4c4" stroke-width="0.7" />
<line x1="298.572" y1="690.3499699115044" x2="298.572" y2="692.4477137419547" stroke="#c4c4c4" stroke-width="0.7" />
<line x1="301.08" y1="689.7555221238938" x2="301.08" y2="692.112972051546" stroke="#c4c4c4" stroke-width="0.7" />
<line x1="303.588" y1="689.1610743362831" x2="303.588" y2="692.5375000559741" stroke="#c4c4c4" stroke-width="0.7" />
<line x1="306.096" y1="688.5562265486726" x2="306.096" y2="691.9851778619652" stroke="#c4c4c4" stroke-width="0.7" />
<line x1="308.604" y1="687.690078761062" x2="308.604" y2="690.9709621939343" stroke="#c4c4c4" stroke-width="0.7" />
<line x1="311.112" y1="686.8239309734514" x2="311.112" y2="688.8764584206172" stroke="#c4c4c4" stroke-width="0.7" />
<line x1="313.62" y1="685.9577831858408" x2="313.62" y2="689.5337707012633" stroke="#c4c4c4" stroke-width="0.7" />
<line x1="316.128" y1="685.0916353982301" x2="316.128" y2="689.3488767666912" stroke="#c4c4c4" stroke-width="0.7" />
<line x1="318.636" y1="684.0505876106195" x2="318.636" y2="688.4783373939306" stroke="#c4c4c4" stroke-width="0.7" />
<line x1="321.144" y1="682.4947398230089" x2="321.144" y2="686.2879715927508" stroke="#c4c4c4" stroke-width="0.7" />
<line x1="323.652" y1="680.9388920353982" x2="323.652" y2="683.0700521922977" stroke="#c4c4c4" stroke-width="0.7" />
<line x1="326.15999999999997" y1="679.3830442477877" x2="326.15999999999997" y2="683.7475561356329" stroke="#c4c4c4" stroke-width="0.7" />
<line x1="328.668" y1="677.8271964601771" x2="328.668" y2="680.4702919295903" stroke="#c4c4c4" stroke-width="0.7" />
<line x1="331.176" y1="676.2295569370292" x2="331.176" y2="680.2047385670649" stroke="#c4c4c4" stroke-width="0.7" />
<line x1="333.68399999999997" y1="674.5845818766913" x2="333.68399999999997" y2="679.6167204463022" stroke="#c4c4c4" stroke-width="0.7" />
<line x1="336.192" y1="672.9396068163534" x2="336.192" y2="677.2975093800146" stroke="#c4c4c4" stroke-width="0.7" />
<line x1="338.7" y1="671.2946317560155" x2="338.7" y2="673.757071685818" stroke="#c4c4c4" stroke-width="0.7" />
<line x1="341.20799999999997" y1="669.6496566956777" x2="341.20799999999997" y2="672.691048448979" stroke="#c4c4c4" stroke-width="0.7" />
<line x1="343.716" y1="668.4526430678466" x2="343.716" y2="673.8361994528113" stroke="#c4c4c4" stroke-width="0.7" />
<line x1="346.224" y1="667.502895280236" x2="346.224" y2="670.0735462780906" stroke="#c4c4c4" stroke-width="0.7" />
<line x1="348.73199999999997" y1="666.5531474926253" x2="348.73199999999997" y2="670.9568824529548" stroke="#c4c4c4" stroke-width="0.7" />
<line x1="351.24" y1="665.6033997050147" x2="351.24" y2="669.2848087461657" stroke="#c4c4c4" stroke-width="0.7" />
<line x1="353.748" y1="664.6536519174041" x2="353.748" y2="667.3285766022722" stroke="#c4c4c4" stroke-width="0.7" />
<line x1="356.256" y1="663.6229798873693" x2="356.256" y2="668.307288371149" stroke="#c4c4c4" stroke-width="0.7" />
<line x1="358.764" y1="662.5790957361222" x2="358.764" y2="664.7724365358239" stroke="#c4c4c4" stroke-width="0.7" />
<line x1="361.272" y1="661.5352115848754" x2="361.272" y2="664.0290602744593" stroke="#c4c4c4" stroke-width="0.7" />
<line x1="363.78" y1="660.4913274336283" x2="363.78" y2="664.269391806844" stroke="#c4c4c4" stroke-width="0.7" />
<line x1="366.288" y1="659.4382796460176" x2="366.288" y2="661.7849354164044" stroke="#c4c4c4" stroke-width="0.7" />
<line x1="368.796" y1="658.133231858407" x2="368.796" y2="660.417572898164" stroke="#c4c4c4" stroke-width="0.7" />
<line x1="371.304" y1="656.8281840707965" x2="371.304" y2="661.741969281885" stroke="#c4c4c4" stroke-width="0.7" />
<line x1="373.812" y1="655.5231362831859" x2="373.812" y2="661.3763139580457" stroke="#c4c4c4" stroke-width="0.7" />
<line x1="376.32" y1="654.2180884955753" x2="376.32" y2="660.8879665388372" stroke="#c4c4c4" stroke-width="0.7" />
<line x1="378.828" y1="652.9670369696469" x2="378.828" y2="655.697995864797" stroke="#c4c4c4" stroke-width="0.7" />
<line x1="381.336" y1="651.8776303035315" x2="381.336" y2="656.2806536569012" stroke="#c4c4c4" stroke-width="0.7" />
<line x1="383.844" y1="650.7882236374163" x2="383.844" y2="654.5788168280094" stroke="#c4c4c4" stroke-width="0.7" />
<line x1="386.352" y1="649.698816971301" x2="386.352" y2="655.1906430506173" stroke="#c4c4c4" stroke-width="0.7" />
<line x1="388.86" y1="648.6094103051857" x2="388.86" y2="653.5189828317693" stroke="#c4c4c4" stroke-width="0.7" />
<polygon points="276.00,694.37 277.25,690.27 278.51,694.29 279.76,687.14 281.02,693.42 282.27,691.34 283.52,693.22 284.78,685.68 286.03,691.39 287.29,689.16 288.54,691.79 289.79,688.83 291.05,690.21 292.30,688.91 293.56,689.86 294.81,686.94 296.06,690.11 297.32,686.92 298.57,688.57 299.83,686.25 301.08,687.62 302.33,684.62 303.59,687.01 304.84,685.13 306.10,686.63 307.35,683.78 308.60,685.56 309.86,682.26 311.11,683.87 312.37,681.77 313.62,683.42 314.87,680.69 316.13,682.17 317.38,680.05 318.64,680.33 319.89,677.78 321.14,679.17 322.40,676.20 323.65,677.55 324.91,674.44 326.16,675.99 327.41,671.75 328.67,673.71 329.92,671.21 331.18,672.54 332.43,668.58 333.68,670.39 334.94,666.60 336.19,668.44 337.45,664.99 338.70,666.56 339.95,664.04 341.21,664.42 342.46,662.01 343.72,659.89 344.97,658.44 346.22,661.69 347.48,656.35 348.73,660.63 349.99,658.00 351.24,657.05 352.49,657.32 353.75,657.93 355.00,652.15 356.26,656.67 357.51,654.80 358.76,656.72 360.02,653.44 361.27,655.01 362.53,652.61 363.78,653.65 365.03,650.13 366.29,652.07 367.54,650.19 368.80,650.89 370.05,648.48 371.30,649.87 372.56,646.54 373.81,647.47 375.07,645.11 376.32,646.90 377.57,643.79 378.83,644.82 380.08,642.35 381.34,643.53 382.59,640.83 383.84,642.43 385.10,639.81 386.35,637.85 387.61,638.55 388.86,640.09 388.86,650.93 387.61,649.78 386.35,649.37 385.10,651.84 383.84,650.74 382.59,652.73 381.34,652.90 380.08,654.65 378.83,654.13 377.57,654.93 376.32,654.51 375.07,656.03 373.81,655.79 372.56,657.93 371.30,657.88 370.05,657.38 368.80,658.34 367.54,659.40 366.29,661.15 365.03,660.01 363.78,662.13 362.53,662.48 361.27,661.29 360.02,663.56 358.76,662.35 357.51,662.98 356.26,664.90 355.00,664.36 353.75,666.78 352.49,666.07 351.24,666.07 349.99,667.97 348.73,666.14 347.48,668.70 346.22,667.16 344.97,667.93 343.72,670.81 342.46,670.47 341.21,669.82 339.95,670.32 338.70,673.71 337.45,673.61 336.19,674.90 334.94,673.68 333.68,675.96 332.43,675.97 331.18,676.43 329.92,677.55 328.67,679.17 327.41,679.15 326.16,680.04 324.91,680.07 323.65,682.93 322.40,683.16 321.14,684.41 319.89,684.07 318.64,686.11 317.38,685.71 316.13,686.37 314.87,686.74 313.62,687.68 312.37,687.08 311.11,686.61 309.86,686.86 308.60,687.80 307.35,687.74 306.10,690.72 304.84,689.81 303.59,690.94 302.33,688.96 301.08,690.67 299.83,692.22 298.57,691.71 297.32,691.43 296.06,691.84 294.81,691.04 293.56,691.48 292.30,691.71 291.05,692.58 289.79,692.83 288.54,694.54 287.29,692.57 286.03,693.10 284.78,693.39 283.52,693.26 282.27,693.86 281.02,693.92 279.76,694.88 278.51,693.76 277.25,696.65 276.00,695.21" fill="#8c8c8c"/>
<polyline points="276.00,689.19 277.25,682.72 278.51,688.01 279.76,680.63 281.02,686.27 282.27,679.08 283.52,682.96 284.78,678.57 286.03,683.55 287.29,676.53 288.54,681.85 289.79,676.22 291.05,679.21 292.30,674.29 293.56,677.79 294.81,671.75 296.06,674.51 297.32,670.51 298.57,673.06 299.83,666.75 301.08,672.14 302.33,666.47 303.59,670.12 304.84,664.43 306.10,667.60 307.35,662.37 308.60,664.03 309.86,658.49 311.11,662.44 312.37,657.98 313.62,662.21 314.87,654.31 316.13,658.45 317.38,652.01 318.64,656.98 319.89,650.65 321.14,654.15 322.40,647.99 323.65,653.29 324.91,645.90 326.16,651.75 327.41,645.47 328.67,648.44 329.92,643.76 331.18,645.73 332.43,641.63 333.68,643.72 334.94,637.96 336.19,640.62 337.45,635.40 338.70,639.04 339.95,633.90 341.21,637.81 342.46,631.14 343.72,634.40 344.97,629.03 346.22,633.22 347.48,627.94 348.73,631.76 349.99,625.91 351.24,629.11 352.49,621.82 353.75,625.24 355.00,619.89 356.26,624.05 357.51,618.38 358.76,621.18 360.02,617.64 361.27,619.58 362.53,613.45 363.78,617.61 365.03,611.92 366.29,617.37 367.54,609.68 368.80,614.36 370.05,609.48 371.30,613.18 372.56,606.86 373.81,610.57 375.07,605.31 376.32,610.62 377.57,603.44 378.83,607.11 380.08,601.41 381.34,605.34 382.59,600.96 383.84,604.69 385.10,597.67 386.35,602.14 387.61,595.76 388.86,600.74" fill="none" stroke="#a0a0a0" stroke-width="1.1"/>
<polyline points="276.00,694.37 277.25,690.27 278.51,694.29 279.76,687.14 281.02,693.42 282.27,691.34 283.52,693.22 284.78,685.68 286.03,691.39 287.29,689.16 288.54,691.79 289.79,688.83 291.05,690.21 292.30,688.91 293.56,689.86 294.81,686.94 296.06,690.11 297.32,686.92 298.57,688.57 299.83,686.25 301.08,687.62 302.33,684.62 303.59,687.01 304.84,685.13 306.10,686.63 307.35,683.78 308.60,685.56 309.86,682.26 311.11,683.87 312.37,681.77 313.62,683.42 314.87,680.69 316.13,682.17 317.38,680.05 318.64,680.33 319.89,677.78 321.14,679.17 322.40,676.20 323.65,677.55 324.91,674.44 326.16,675.99 327.41,671.75 328.67,673.71 329.92,671.21 331.18,672.54 332.43,668.58 333.68,670.39 334.94,666.60 336.19,668.44 337.45,664.99 338.70,666.56 339.95,664.04 341.21,664.42 342.46,662.01 343.72,659.89 344.97,658.44 346.22,661.69 347.48,656.35 348.73,660.63 349.99,658.00 351.24,657.05 352.49,657.32 353.75,657.93 355.00,652.15 356.26,656.67 357.51,654.80 358.76,656.72 360.02,653.44 361.27,655.01 362.53,652.61 363.78,653.65 365.03,650.13 366.29,652.07 367.54,650.19 368.80,650.89 370.05,648.48 371.30,649.87 372.56,646.54 373.81,647.47 375.07,645.11 376.32,646.90 377.57,643.79 378.83,644.82 380.08,642.35 381.34,643.53 382.59,640.83 383.84,642.43 385.10,639.81 386.35,637.85 387.61,638.55 388.86,640.09" fill="none" stroke="#111" stroke-width="1.1"/>
<line x1="448.5" y1="562.8" x2="448.5" y2="706.3" stroke="#000" stroke-width="1.4" />
<line x1="444.9" y1="705.7" x2="448.5" y2="705.7" stroke="#000" stroke-width="1.2" />
<text x="441.9" y="709.1" font-size="9.5" text-anchor="end" font-weight="normal" fill="#000" >0</text>
<line x1="444.9" y1="677.5200000000001" x2="448.5" y2="677.5200000000001" stroke="#000" stroke-width="1.2" />
<text x="441.9" y="680.9200000000001" font-size="9.5" text-anchor="end" font-weight="normal" fill="#000" >10</text>
<line x1="444.9" y1="649.34" x2="448.5" y2="649.34" stroke="#000" stroke-width="1.2" />
<text x="441.9" y="652.74" font-size="9.5" text-anchor="end" font-weight="normal" fill="#000" >20</text>
<line x1="444.9" y1="621.1600000000001" x2="448.5" y2="621.1600000000001" stroke="#000" stroke-width="1.2" />
<text x="441.9" y="624.5600000000001" font-size="9.5" text-anchor="end" font-weight="normal" fill="#000" >30</text>
<line x1="444.9" y1="592.98" x2="448.5" y2="592.98" stroke="#000" stroke-width="1.2" />
<text x="441.9" y="596.38" font-size="9.5" text-anchor="end" font-weight="normal" fill="#000" >40</text>
<line x1="444.9" y1="564.8000000000001" x2="448.5" y2="564.8000000000001" stroke="#000" stroke-width="1.2" />
<text x="441.9" y="568.2" font-size="9.5" text-anchor="end" font-weight="normal" fill="#000" >50</text>
<line x1="447.8" y1="705.7" x2="512" y2="705.7" stroke="#000" stroke-width="1.4" />
<line x1="464.3" y1="705.7" x2="464.3" y2="709.4" stroke="#000" stroke-width="1.2" />
<line x1="495.9" y1="705.7" x2="495.9" y2="709.4" stroke="#000" stroke-width="1.2" />
<text x="464.2" y="720.3" font-size="8.8" text-anchor="middle" font-weight="normal" fill="#000" >WT</text>
<text x="495.6" y="720.3" font-size="8.8" text-anchor="middle" font-weight="normal" fill="#000" >KO</text>
<text transform="translate(425.1,633.8) rotate(-90) scale(0.79,1)" font-size="9.2" text-anchor="middle" font-weight="normal" stroke="#000" stroke-width="0.25">% surface coverage</text>
<line x1="463.1" y1="571.4" x2="498.2" y2="571.4" stroke="#000" stroke-width="1.2" />
<text x="480.4" y="570.0" font-size="7" text-anchor="middle" font-weight="bold" fill="#000" >*</text>
<rect x="461.50" y="579.20" width="5.2" height="5.2" fill="#c9977f" stroke="#b91d3c" stroke-width="1.2"/>
<rect x="461.50" y="597.90" width="5.2" height="5.2" fill="#c9977f" stroke="#b91d3c" stroke-width="1.2"/>
<rect x="461.50" y="610.00" width="5.2" height="5.2" fill="#c9977f" stroke="#b91d3c" stroke-width="1.2"/>
<rect x="465.30" y="633.40" width="5.2" height="5.2" fill="#c9977f" stroke="#b91d3c" stroke-width="1.2"/>
<rect x="457.90" y="640.30" width="5.2" height="5.2" fill="#c9977f" stroke="#b91d3c" stroke-width="1.2"/>
<line x1="454.1" y1="615.2" x2="474.3" y2="615.2" stroke="#b91d3c" stroke-width="1.5" />
<line x1="464.3" y1="603.5" x2="464.3" y2="626.0" stroke="#b91d3c" stroke-width="1.3" />
<line x1="459.1" y1="603.5" x2="469.3" y2="603.5" stroke="#b91d3c" stroke-width="1.3" />
<line x1="459.1" y1="626.0" x2="469.3" y2="626.0" stroke="#b91d3c" stroke-width="1.3" />
<rect x="493.00" y="623.70" width="5.2" height="5.2" fill="#8e9cc6" stroke="#35589c" stroke-width="1.2"/>
<rect x="486.40" y="643.30" width="5.2" height="5.2" fill="#8e9cc6" stroke="#35589c" stroke-width="1.2"/>
<rect x="499.80" y="642.40" width="5.2" height="5.2" fill="#8e9cc6" stroke="#35589c" stroke-width="1.2"/>
<rect x="493.00" y="648.10" width="5.2" height="5.2" fill="#8e9cc6" stroke="#35589c" stroke-width="1.2"/>
<rect x="493.00" y="675.30" width="5.2" height="5.2" fill="#8e9cc6" stroke="#35589c" stroke-width="1.2"/>
<line x1="485.6" y1="649.0" x2="505.5" y2="649.0" stroke="#35589c" stroke-width="1.5" />
<line x1="495.9" y1="640.7" x2="495.9" y2="657.5" stroke="#35589c" stroke-width="1.3" />
<line x1="490.8" y1="640.7" x2="500.8" y2="640.7" stroke="#35589c" stroke-width="1.3" />
<line x1="490.8" y1="657.5" x2="500.8" y2="657.5" stroke="#35589c" stroke-width="1.3" />
<rect x="0.5" y="0.5" width="519" height="746" fill="none" stroke="#000" stroke-width="1"/>
</svg>
</body></html>
